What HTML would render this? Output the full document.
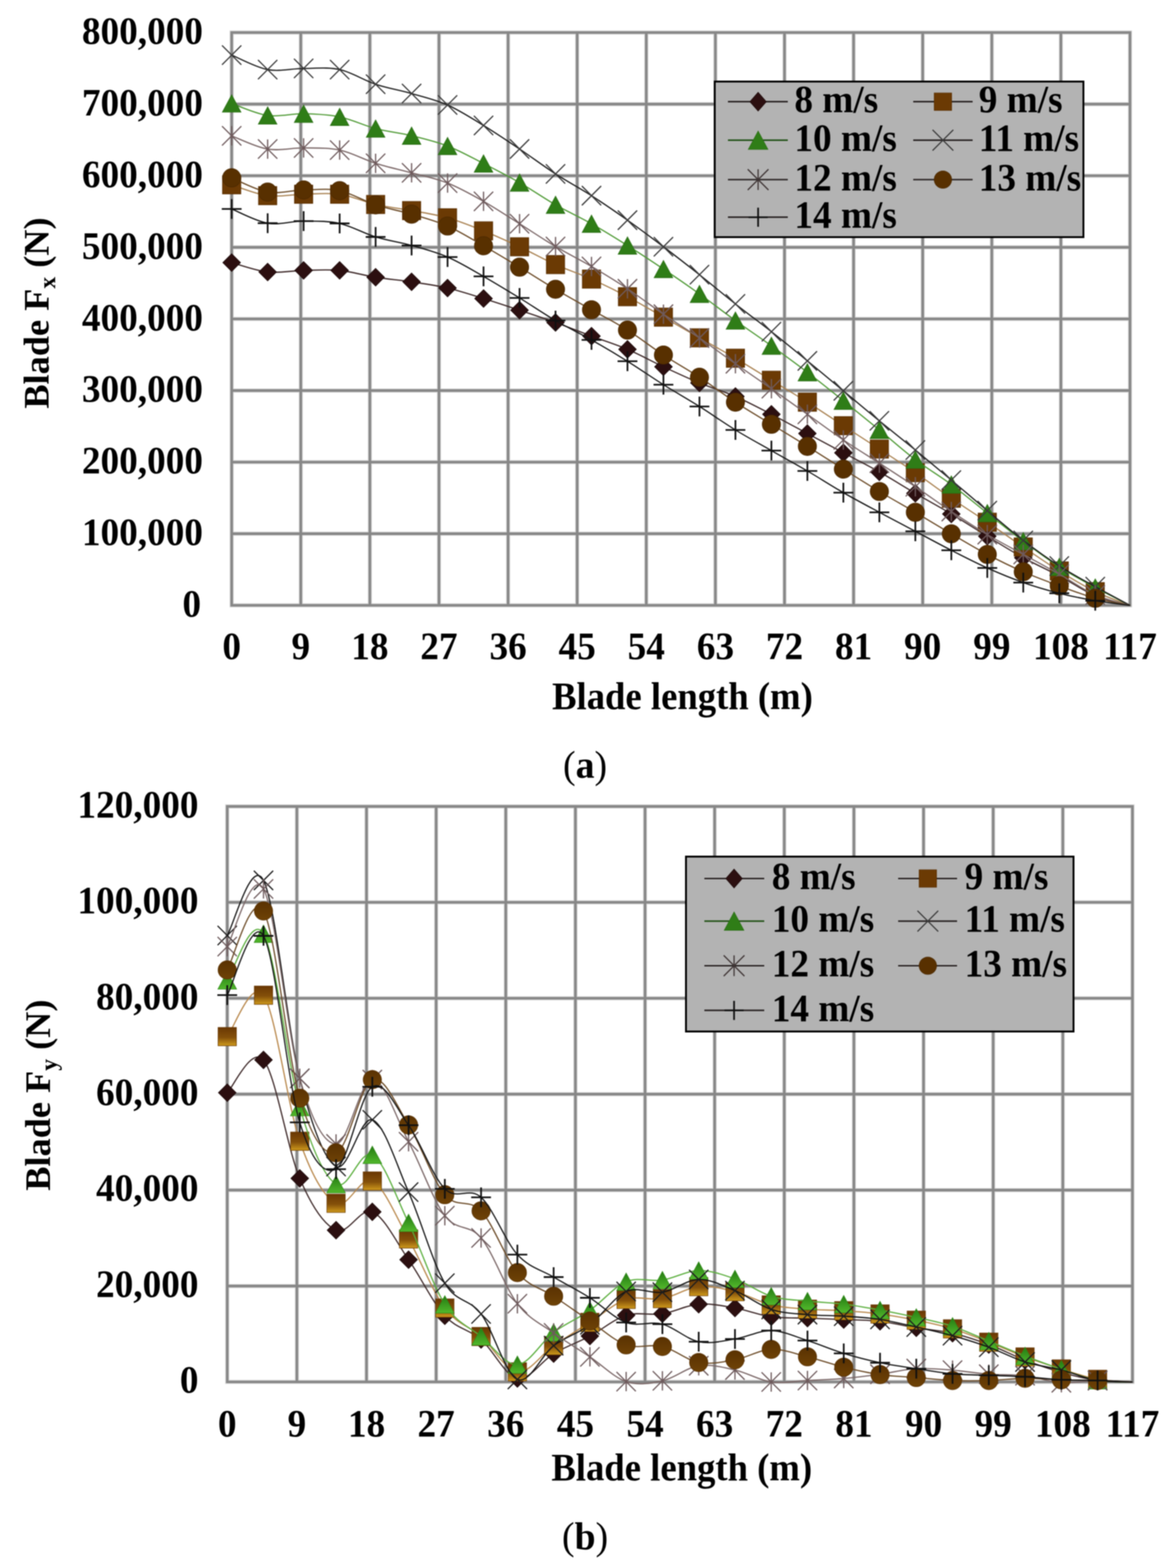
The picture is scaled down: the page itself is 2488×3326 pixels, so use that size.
<!DOCTYPE html>
<html><head><meta charset="utf-8"><title>Blade forces</title>
<style>html,body{margin:0;padding:0;background:#fff;}svg{display:block;filter:blur(1px);}</style></head><body>
<svg width="2488" height="3326" viewBox="0 0 2488 3326">
<defs>
<linearGradient id="gTri" x1="0" y1="0" x2="0" y2="1"><stop offset="0" stop-color="#237a12"/><stop offset="1" stop-color="#52b82c"/></linearGradient>
<linearGradient id="gSq" x1="0" y1="0" x2="0" y2="1"><stop offset="0" stop-color="#6a3804"/><stop offset="0.55" stop-color="#84500a"/><stop offset="1" stop-color="#cf9a1c"/></linearGradient>
<linearGradient id="gCi" x1="0" y1="0" x2="0" y2="1"><stop offset="0" stop-color="#5a3202"/><stop offset="1" stop-color="#6e4206"/></linearGradient>
</defs>
<rect width="2488" height="3326" fill="#fff"/>
<g style="font-family:'Liberation Serif','Times New Roman',serif;font-weight:bold;font-size:77px" fill="#000">
<path d="M491.4,69V1284M638,69V1284M784.5,69V1284M931.1,69V1284M1077.7,69V1284M1224.2,69V1284M1370.8,69V1284M1517.4,69V1284M1664,69V1284M1810.5,69V1284M1957.1,69V1284M2103.7,69V1284M2250.2,69V1284M2396.8,69V1284M491.4,69H2396.8M491.4,220.9H2396.8M491.4,372.8H2396.8M491.4,524.6H2396.8M491.4,676.5H2396.8M491.4,828.4H2396.8M491.4,980.2H2396.8M491.4,1132.1H2396.8M491.4,1284H2396.8" stroke="#dcdcdc" stroke-width="9" fill="none" stroke-linecap="square"/>
<path d="M491.4,69V1284M638,69V1284M784.5,69V1284M931.1,69V1284M1077.7,69V1284M1224.2,69V1284M1370.8,69V1284M1517.4,69V1284M1664,69V1284M1810.5,69V1284M1957.1,69V1284M2103.7,69V1284M2250.2,69V1284M2396.8,69V1284M491.4,69H2396.8M491.4,220.9H2396.8M491.4,372.8H2396.8M491.4,524.6H2396.8M491.4,676.5H2396.8M491.4,828.4H2396.8M491.4,980.2H2396.8M491.4,1132.1H2396.8M491.4,1284H2396.8" stroke="#878787" stroke-width="5.6" fill="none" stroke-linecap="square"/>
<text transform="translate(430.5,93) scale(1,1.045)" font-size="79" text-anchor="end">800,000</text>
<text transform="translate(430.5,244.9) scale(1,1.045)" font-size="79" text-anchor="end">700,000</text>
<text transform="translate(430.5,396.8) scale(1,1.045)" font-size="79" text-anchor="end">600,000</text>
<text transform="translate(430.5,548.6) scale(1,1.045)" font-size="79" text-anchor="end">500,000</text>
<text transform="translate(430.5,700.5) scale(1,1.045)" font-size="79" text-anchor="end">400,000</text>
<text transform="translate(430.5,852.4) scale(1,1.045)" font-size="79" text-anchor="end">300,000</text>
<text transform="translate(430.5,1004.2) scale(1,1.045)" font-size="79" text-anchor="end">200,000</text>
<text transform="translate(430.5,1156.1) scale(1,1.045)" font-size="79" text-anchor="end">100,000</text>
<text transform="translate(426.5,1308) scale(1,1.045)" font-size="79" text-anchor="end">0</text>
<text transform="translate(491.4,1398) scale(1,1.045)" font-size="79" text-anchor="middle">0</text>
<text transform="translate(638,1398) scale(1,1.045)" font-size="79" text-anchor="middle">9</text>
<text transform="translate(784.5,1398) scale(1,1.045)" font-size="79" text-anchor="middle">18</text>
<text transform="translate(931.1,1398) scale(1,1.045)" font-size="79" text-anchor="middle">27</text>
<text transform="translate(1077.7,1398) scale(1,1.045)" font-size="79" text-anchor="middle">36</text>
<text transform="translate(1224.2,1398) scale(1,1.045)" font-size="79" text-anchor="middle">45</text>
<text transform="translate(1370.8,1398) scale(1,1.045)" font-size="79" text-anchor="middle">54</text>
<text transform="translate(1517.4,1398) scale(1,1.045)" font-size="79" text-anchor="middle">63</text>
<text transform="translate(1664,1398) scale(1,1.045)" font-size="79" text-anchor="middle">72</text>
<text transform="translate(1810.5,1398) scale(1,1.045)" font-size="79" text-anchor="middle">81</text>
<text transform="translate(1957.1,1398) scale(1,1.045)" font-size="79" text-anchor="middle">90</text>
<text transform="translate(2103.7,1398) scale(1,1.045)" font-size="79" text-anchor="middle">99</text>
<text transform="translate(2250.2,1398) scale(1,1.045)" font-size="79" text-anchor="middle">108</text>
<text transform="translate(2396.8,1398) scale(1,1.045)" font-size="79" text-anchor="middle">117</text>
<text transform="translate(1447.5,1504.3) scale(1,1.05)" font-size="77.8" text-anchor="middle">Blade length (m)</text>
<text transform="translate(103,664) rotate(-90)" text-anchor="middle">Blade F<tspan font-size="50" dy="14">x</tspan><tspan dy="-14"> (N)</tspan></text>
<text transform="translate(1241,1649.5) scale(1,1.02)" font-size="80" text-anchor="middle"><tspan font-weight="normal">(</tspan>a<tspan font-weight="normal">)</tspan></text>
<path d="M491.4,557 C504.1,560.3 542.3,574.2 567.7,577 C593.2,579.8 618.6,574.2 644,573.6 C669.5,573 694.9,571.2 720.4,573.6 C745.8,576 771.2,584.1 796.7,588.1 C822.1,592.1 847.6,594 873,597.8 C898.4,601.6 923.9,605.1 949.3,611 C974.8,616.9 1000.2,625.4 1025.6,633.2 C1051.1,641 1076.5,649.5 1102,658 C1127.4,666.5 1152.8,674.8 1178.3,684 C1203.7,693.2 1229.2,703.5 1254.6,713 C1280,722.5 1305.5,730.2 1330.9,741 C1356.4,751.8 1381.8,766.1 1407.2,778 C1432.7,789.9 1458.1,801.8 1483.6,812.3 C1509,822.8 1534.4,829.9 1559.9,841 C1585.3,852.1 1610.8,865.7 1636.2,878.8 C1661.6,891.9 1687.1,906 1712.5,919.6 C1738,933.2 1763.4,946.8 1788.8,960.4 C1814.3,974 1839.7,986.7 1865.2,1001 C1890.6,1015.3 1916,1031.5 1941.5,1046.4 C1966.9,1061.3 1992.4,1075 2017.8,1090.2 C2043.2,1105.4 2068.7,1122 2094.1,1137.5 C2119.6,1153 2145,1169 2170.4,1183 C2195.9,1197 2221.3,1208.1 2246.8,1221.6 C2272.2,1235 2298.1,1253.3 2323.1,1263.7 C2348.1,1274.1 2384.5,1280.6 2396.8,1284" stroke="#3b2626" stroke-width="2.6" fill="none" stroke-linejoin="round"/>
<path d="M491.4,538.1 L510.3,557 L491.4,575.9 L472.5,557 Z" fill="#2c0f10" stroke="#1a0808" stroke-width="1.2"/>
<path d="M567.7,558.1 L586.6,577 L567.7,595.9 L548.8,577 Z" fill="#2c0f10" stroke="#1a0808" stroke-width="1.2"/>
<path d="M644,554.7 L663,573.6 L644,592.5 L625.1,573.6 Z" fill="#2c0f10" stroke="#1a0808" stroke-width="1.2"/>
<path d="M720.4,554.7 L739.3,573.6 L720.4,592.5 L701.4,573.6 Z" fill="#2c0f10" stroke="#1a0808" stroke-width="1.2"/>
<path d="M796.7,569.2 L815.6,588.1 L796.7,607 L777.8,588.1 Z" fill="#2c0f10" stroke="#1a0808" stroke-width="1.2"/>
<path d="M873,578.9 L891.9,597.8 L873,616.7 L854.1,597.8 Z" fill="#2c0f10" stroke="#1a0808" stroke-width="1.2"/>
<path d="M949.3,592.1 L968.2,611 L949.3,629.9 L930.4,611 Z" fill="#2c0f10" stroke="#1a0808" stroke-width="1.2"/>
<path d="M1025.6,614.3 L1044.6,633.2 L1025.6,652.1 L1006.7,633.2 Z" fill="#2c0f10" stroke="#1a0808" stroke-width="1.2"/>
<path d="M1102,639.1 L1120.9,658 L1102,676.9 L1083,658 Z" fill="#2c0f10" stroke="#1a0808" stroke-width="1.2"/>
<path d="M1178.3,665.1 L1197.2,684 L1178.3,702.9 L1159.4,684 Z" fill="#2c0f10" stroke="#1a0808" stroke-width="1.2"/>
<path d="M1254.6,694.1 L1273.5,713 L1254.6,731.9 L1235.7,713 Z" fill="#2c0f10" stroke="#1a0808" stroke-width="1.2"/>
<path d="M1330.9,722.1 L1349.8,741 L1330.9,759.9 L1312,741 Z" fill="#2c0f10" stroke="#1a0808" stroke-width="1.2"/>
<path d="M1407.2,759.1 L1426.2,778 L1407.2,796.9 L1388.3,778 Z" fill="#2c0f10" stroke="#1a0808" stroke-width="1.2"/>
<path d="M1483.6,793.4 L1502.5,812.3 L1483.6,831.2 L1464.6,812.3 Z" fill="#2c0f10" stroke="#1a0808" stroke-width="1.2"/>
<path d="M1559.9,822.1 L1578.8,841 L1559.9,859.9 L1541,841 Z" fill="#2c0f10" stroke="#1a0808" stroke-width="1.2"/>
<path d="M1636.2,859.9 L1655.1,878.8 L1636.2,897.7 L1617.3,878.8 Z" fill="#2c0f10" stroke="#1a0808" stroke-width="1.2"/>
<path d="M1712.5,900.7 L1731.4,919.6 L1712.5,938.5 L1693.6,919.6 Z" fill="#2c0f10" stroke="#1a0808" stroke-width="1.2"/>
<path d="M1788.8,941.5 L1807.8,960.4 L1788.8,979.3 L1769.9,960.4 Z" fill="#2c0f10" stroke="#1a0808" stroke-width="1.2"/>
<path d="M1865.2,982.1 L1884.1,1001 L1865.2,1019.9 L1846.2,1001 Z" fill="#2c0f10" stroke="#1a0808" stroke-width="1.2"/>
<path d="M1941.5,1027.5 L1960.4,1046.4 L1941.5,1065.3 L1922.6,1046.4 Z" fill="#2c0f10" stroke="#1a0808" stroke-width="1.2"/>
<path d="M2017.8,1071.3 L2036.7,1090.2 L2017.8,1109.1 L1998.9,1090.2 Z" fill="#2c0f10" stroke="#1a0808" stroke-width="1.2"/>
<path d="M2094.1,1118.6 L2113,1137.5 L2094.1,1156.4 L2075.2,1137.5 Z" fill="#2c0f10" stroke="#1a0808" stroke-width="1.2"/>
<path d="M2170.4,1164.1 L2189.4,1183 L2170.4,1201.9 L2151.5,1183 Z" fill="#2c0f10" stroke="#1a0808" stroke-width="1.2"/>
<path d="M2246.8,1202.7 L2265.7,1221.6 L2246.8,1240.5 L2227.8,1221.6 Z" fill="#2c0f10" stroke="#1a0808" stroke-width="1.2"/>
<path d="M2323.1,1244.8 L2342,1263.7 L2323.1,1282.6 L2304.2,1263.7 Z" fill="#2c0f10" stroke="#1a0808" stroke-width="1.2"/>
<path d="M491.4,392 C504.1,395.8 542.3,411.7 567.7,415 C593.2,418.3 618.6,412.5 644,412 C669.5,411.5 694.9,408.4 720.4,412 C745.8,415.6 771.2,427.9 796.7,433.7 C822.1,439.5 847.6,442 873,446.7 C898.4,451.4 923.9,454.8 949.3,462 C974.8,469.2 1000.2,479.4 1025.6,489.7 C1051.1,499.9 1076.5,511.6 1102,523.5 C1127.4,535.4 1152.8,549.9 1178.3,561.3 C1203.7,572.7 1229.2,580.6 1254.6,592 C1280,603.4 1305.5,615.9 1330.9,629.4 C1356.4,642.9 1381.8,658.2 1407.2,672.7 C1432.7,687.2 1458.1,702.1 1483.6,716.6 C1509,731.1 1534.4,744.8 1559.9,759.8 C1585.3,774.8 1610.8,791 1636.2,806.6 C1661.6,822.2 1687.1,837 1712.5,853.1 C1738,869.2 1763.4,886.4 1788.8,903 C1814.3,919.6 1839.7,935.9 1865.2,952.5 C1890.6,969.1 1916,985.2 1941.5,1002.6 C1966.9,1020 1992.4,1039.4 2017.8,1056.9 C2043.2,1074.4 2068.7,1090.5 2094.1,1107.7 C2119.6,1124.9 2145,1143.1 2170.4,1160.3 C2195.9,1177.5 2221.3,1195.3 2246.8,1211.1 C2272.2,1226.9 2298.1,1242.8 2323.1,1255 C2348.1,1267.2 2384.5,1279.2 2396.8,1284" stroke="#a8804f" stroke-width="2.6" fill="none" stroke-linejoin="round"/>
<rect x="471.9" y="372.5" width="39" height="39" fill="#6b3a04" stroke="#5a3004" stroke-width="1.2"/>
<rect x="548.2" y="395.5" width="39" height="39" fill="#6b3a04" stroke="#5a3004" stroke-width="1.2"/>
<rect x="624.5" y="392.5" width="39" height="39" fill="#6b3a04" stroke="#5a3004" stroke-width="1.2"/>
<rect x="700.9" y="392.5" width="39" height="39" fill="#6b3a04" stroke="#5a3004" stroke-width="1.2"/>
<rect x="777.2" y="414.2" width="39" height="39" fill="#6b3a04" stroke="#5a3004" stroke-width="1.2"/>
<rect x="853.5" y="427.2" width="39" height="39" fill="#6b3a04" stroke="#5a3004" stroke-width="1.2"/>
<rect x="929.8" y="442.5" width="39" height="39" fill="#6b3a04" stroke="#5a3004" stroke-width="1.2"/>
<rect x="1006.1" y="470.2" width="39" height="39" fill="#6b3a04" stroke="#5a3004" stroke-width="1.2"/>
<rect x="1082.5" y="504" width="39" height="39" fill="#6b3a04" stroke="#5a3004" stroke-width="1.2"/>
<rect x="1158.8" y="541.8" width="39" height="39" fill="#6b3a04" stroke="#5a3004" stroke-width="1.2"/>
<rect x="1235.1" y="572.5" width="39" height="39" fill="#6b3a04" stroke="#5a3004" stroke-width="1.2"/>
<rect x="1311.4" y="609.9" width="39" height="39" fill="#6b3a04" stroke="#5a3004" stroke-width="1.2"/>
<rect x="1387.7" y="653.2" width="39" height="39" fill="#6b3a04" stroke="#5a3004" stroke-width="1.2"/>
<rect x="1464.1" y="697.1" width="39" height="39" fill="#6b3a04" stroke="#5a3004" stroke-width="1.2"/>
<rect x="1540.4" y="740.3" width="39" height="39" fill="#6b3a04" stroke="#5a3004" stroke-width="1.2"/>
<rect x="1616.7" y="787.1" width="39" height="39" fill="#6b3a04" stroke="#5a3004" stroke-width="1.2"/>
<rect x="1693" y="833.6" width="39" height="39" fill="#6b3a04" stroke="#5a3004" stroke-width="1.2"/>
<rect x="1769.3" y="883.5" width="39" height="39" fill="#6b3a04" stroke="#5a3004" stroke-width="1.2"/>
<rect x="1845.7" y="933" width="39" height="39" fill="#6b3a04" stroke="#5a3004" stroke-width="1.2"/>
<rect x="1922" y="983.1" width="39" height="39" fill="#6b3a04" stroke="#5a3004" stroke-width="1.2"/>
<rect x="1998.3" y="1037.4" width="39" height="39" fill="#6b3a04" stroke="#5a3004" stroke-width="1.2"/>
<rect x="2074.6" y="1088.2" width="39" height="39" fill="#6b3a04" stroke="#5a3004" stroke-width="1.2"/>
<rect x="2150.9" y="1140.8" width="39" height="39" fill="#6b3a04" stroke="#5a3004" stroke-width="1.2"/>
<rect x="2227.3" y="1191.6" width="39" height="39" fill="#6b3a04" stroke="#5a3004" stroke-width="1.2"/>
<rect x="2303.6" y="1235.5" width="39" height="39" fill="#6b3a04" stroke="#5a3004" stroke-width="1.2"/>
<path d="M491.4,219.5 C504.1,223.7 542.3,241.3 567.7,244.9 C593.2,248.5 618.6,240.8 644,241.3 C669.5,241.8 694.9,242.7 720.4,247.9 C745.8,253.1 771.2,266.1 796.7,272.7 C822.1,279.3 847.6,281.6 873,287.8 C898.4,294 923.9,299.9 949.3,309.7 C974.8,319.5 1000.2,333.9 1025.6,346.8 C1051.1,359.7 1076.5,372.7 1102,387.3 C1127.4,401.9 1152.8,419.8 1178.3,434.4 C1203.7,448.9 1229.2,460.2 1254.6,474.6 C1280,489 1305.5,504.8 1330.9,520.8 C1356.4,536.8 1381.8,553.6 1407.2,570.7 C1432.7,587.8 1458.1,605.3 1483.6,623.5 C1509,641.7 1534.4,661.7 1559.9,680 C1585.3,698.3 1610.8,715.2 1636.2,733.5 C1661.6,751.8 1687.1,770.3 1712.5,789.7 C1738,809.1 1763.4,829.7 1788.8,850.1 C1814.3,870.5 1839.7,891.2 1865.2,912 C1890.6,932.8 1916,955.7 1941.5,975 C1966.9,994.3 1992.4,1008.9 2017.8,1027.8 C2043.2,1046.7 2068.7,1068.4 2094.1,1088.4 C2119.6,1108.4 2145,1129 2170.4,1148 C2195.9,1167 2221.3,1186 2246.8,1202.4 C2272.2,1218.8 2298.1,1232.6 2323.1,1246.2 C2348.1,1259.8 2384.5,1277.7 2396.8,1284" stroke="#4f9a35" stroke-width="2.6" fill="none" stroke-linejoin="round"/>
<path d="M491.4,201 L511.3,238 L471.5,238 Z" fill="#2f7d17" stroke="#2a6e14" stroke-width="1.2"/>
<path d="M567.7,226.4 L587.6,263.4 L547.8,263.4 Z" fill="#2f7d17" stroke="#2a6e14" stroke-width="1.2"/>
<path d="M644,222.8 L663.9,259.8 L624.1,259.8 Z" fill="#2f7d17" stroke="#2a6e14" stroke-width="1.2"/>
<path d="M720.4,229.4 L740.2,266.4 L700.5,266.4 Z" fill="#2f7d17" stroke="#2a6e14" stroke-width="1.2"/>
<path d="M796.7,254.2 L816.6,291.2 L776.8,291.2 Z" fill="#2f7d17" stroke="#2a6e14" stroke-width="1.2"/>
<path d="M873,269.3 L892.9,306.3 L853.1,306.3 Z" fill="#2f7d17" stroke="#2a6e14" stroke-width="1.2"/>
<path d="M949.3,291.2 L969.2,328.2 L929.4,328.2 Z" fill="#2f7d17" stroke="#2a6e14" stroke-width="1.2"/>
<path d="M1025.6,328.3 L1045.5,365.3 L1005.7,365.3 Z" fill="#2f7d17" stroke="#2a6e14" stroke-width="1.2"/>
<path d="M1102,368.8 L1121.9,405.8 L1082.1,405.8 Z" fill="#2f7d17" stroke="#2a6e14" stroke-width="1.2"/>
<path d="M1178.3,415.9 L1198.2,452.9 L1158.4,452.9 Z" fill="#2f7d17" stroke="#2a6e14" stroke-width="1.2"/>
<path d="M1254.6,456.1 L1274.5,493.1 L1234.7,493.1 Z" fill="#2f7d17" stroke="#2a6e14" stroke-width="1.2"/>
<path d="M1330.9,502.3 L1350.8,539.3 L1311,539.3 Z" fill="#2f7d17" stroke="#2a6e14" stroke-width="1.2"/>
<path d="M1407.2,552.2 L1427.1,589.2 L1387.3,589.2 Z" fill="#2f7d17" stroke="#2a6e14" stroke-width="1.2"/>
<path d="M1483.6,605 L1503.5,642 L1463.7,642 Z" fill="#2f7d17" stroke="#2a6e14" stroke-width="1.2"/>
<path d="M1559.9,661.5 L1579.8,698.5 L1540,698.5 Z" fill="#2f7d17" stroke="#2a6e14" stroke-width="1.2"/>
<path d="M1636.2,715 L1656.1,752 L1616.3,752 Z" fill="#2f7d17" stroke="#2a6e14" stroke-width="1.2"/>
<path d="M1712.5,771.2 L1732.4,808.2 L1692.6,808.2 Z" fill="#2f7d17" stroke="#2a6e14" stroke-width="1.2"/>
<path d="M1788.8,831.6 L1808.7,868.6 L1768.9,868.6 Z" fill="#2f7d17" stroke="#2a6e14" stroke-width="1.2"/>
<path d="M1865.2,893.5 L1885,930.5 L1845.3,930.5 Z" fill="#2f7d17" stroke="#2a6e14" stroke-width="1.2"/>
<path d="M1941.5,956.5 L1961.4,993.5 L1921.6,993.5 Z" fill="#2f7d17" stroke="#2a6e14" stroke-width="1.2"/>
<path d="M2017.8,1009.3 L2037.7,1046.3 L1997.9,1046.3 Z" fill="#2f7d17" stroke="#2a6e14" stroke-width="1.2"/>
<path d="M2094.1,1069.9 L2114,1106.9 L2074.2,1106.9 Z" fill="#2f7d17" stroke="#2a6e14" stroke-width="1.2"/>
<path d="M2170.4,1129.5 L2190.3,1166.5 L2150.6,1166.5 Z" fill="#2f7d17" stroke="#2a6e14" stroke-width="1.2"/>
<path d="M2246.8,1183.9 L2266.6,1220.9 L2226.9,1220.9 Z" fill="#2f7d17" stroke="#2a6e14" stroke-width="1.2"/>
<path d="M2323.1,1227.7 L2343,1264.7 L2303.2,1264.7 Z" fill="#2f7d17" stroke="#2a6e14" stroke-width="1.2"/>
<path d="M491.4,116.8 C504.1,121.9 542.3,142.9 567.7,147.6 C593.2,152.3 618.6,145.2 644,145.2 C669.5,145.2 694.9,142 720.4,147.6 C745.8,153.2 771.2,170.2 796.7,178.7 C822.1,187.2 847.6,191.1 873,198.4 C898.4,205.7 923.9,211.4 949.3,222.7 C974.8,234 1000.2,250.6 1025.6,266.1 C1051.1,281.7 1076.5,298.9 1102,316 C1127.4,333.1 1152.8,352.3 1178.3,368.8 C1203.7,385.3 1229.2,398.6 1254.6,415 C1280,431.4 1305.5,448.9 1330.9,467 C1356.4,485.1 1381.8,504.1 1407.2,523.4 C1432.7,542.7 1458.1,562.5 1483.6,582.7 C1509,602.9 1534.4,624.6 1559.9,644.7 C1585.3,664.9 1610.8,683.5 1636.2,703.6 C1661.6,723.7 1687.1,744.6 1712.5,765.5 C1738,786.4 1763.4,807.8 1788.8,829 C1814.3,850.2 1839.7,871.8 1865.2,892.7 C1890.6,913.6 1916,933.7 1941.5,954.6 C1966.9,975.5 1992.4,996.9 2017.8,1018.3 C2043.2,1039.7 2068.7,1061.9 2094.1,1083.2 C2119.6,1104.5 2145,1126.7 2170.4,1146.3 C2195.9,1165.9 2221.3,1184.2 2246.8,1200.6 C2272.2,1216.9 2298.1,1230.5 2323.1,1244.4 C2348.1,1258.3 2384.5,1277.4 2396.8,1284" stroke="#1c1c1c" stroke-width="2.6" fill="none" stroke-linejoin="round"/>
<path d="M470.9,96.3 L511.9,137.3 M470.9,137.3 L511.9,96.3" stroke="#3a3a3a" stroke-width="2.6" fill="none"/>
<path d="M547.2,127.1 L588.2,168.1 M547.2,168.1 L588.2,127.1" stroke="#3a3a3a" stroke-width="2.6" fill="none"/>
<path d="M623.5,124.7 L664.5,165.7 M623.5,165.7 L664.5,124.7" stroke="#3a3a3a" stroke-width="2.6" fill="none"/>
<path d="M699.9,127.1 L740.9,168.1 M699.9,168.1 L740.9,127.1" stroke="#3a3a3a" stroke-width="2.6" fill="none"/>
<path d="M776.2,158.2 L817.2,199.2 M776.2,199.2 L817.2,158.2" stroke="#3a3a3a" stroke-width="2.6" fill="none"/>
<path d="M852.5,177.9 L893.5,218.9 M852.5,218.9 L893.5,177.9" stroke="#3a3a3a" stroke-width="2.6" fill="none"/>
<path d="M928.8,202.2 L969.8,243.2 M928.8,243.2 L969.8,202.2" stroke="#3a3a3a" stroke-width="2.6" fill="none"/>
<path d="M1005.1,245.6 L1046.1,286.6 M1005.1,286.6 L1046.1,245.6" stroke="#3a3a3a" stroke-width="2.6" fill="none"/>
<path d="M1081.5,295.5 L1122.5,336.5 M1081.5,336.5 L1122.5,295.5" stroke="#3a3a3a" stroke-width="2.6" fill="none"/>
<path d="M1157.8,348.3 L1198.8,389.3 M1157.8,389.3 L1198.8,348.3" stroke="#3a3a3a" stroke-width="2.6" fill="none"/>
<path d="M1234.1,394.5 L1275.1,435.5 M1234.1,435.5 L1275.1,394.5" stroke="#3a3a3a" stroke-width="2.6" fill="none"/>
<path d="M1310.4,446.5 L1351.4,487.5 M1310.4,487.5 L1351.4,446.5" stroke="#3a3a3a" stroke-width="2.6" fill="none"/>
<path d="M1386.7,502.9 L1427.7,543.9 M1386.7,543.9 L1427.7,502.9" stroke="#3a3a3a" stroke-width="2.6" fill="none"/>
<path d="M1463.1,562.2 L1504.1,603.2 M1463.1,603.2 L1504.1,562.2" stroke="#3a3a3a" stroke-width="2.6" fill="none"/>
<path d="M1539.4,624.2 L1580.4,665.2 M1539.4,665.2 L1580.4,624.2" stroke="#3a3a3a" stroke-width="2.6" fill="none"/>
<path d="M1615.7,683.1 L1656.7,724.1 M1615.7,724.1 L1656.7,683.1" stroke="#3a3a3a" stroke-width="2.6" fill="none"/>
<path d="M1692,745 L1733,786 M1692,786 L1733,745" stroke="#3a3a3a" stroke-width="2.6" fill="none"/>
<path d="M1768.3,808.5 L1809.3,849.5 M1768.3,849.5 L1809.3,808.5" stroke="#3a3a3a" stroke-width="2.6" fill="none"/>
<path d="M1844.7,872.2 L1885.7,913.2 M1844.7,913.2 L1885.7,872.2" stroke="#3a3a3a" stroke-width="2.6" fill="none"/>
<path d="M1921,934.1 L1962,975.1 M1921,975.1 L1962,934.1" stroke="#3a3a3a" stroke-width="2.6" fill="none"/>
<path d="M1997.3,997.8 L2038.3,1038.8 M1997.3,1038.8 L2038.3,997.8" stroke="#3a3a3a" stroke-width="2.6" fill="none"/>
<path d="M2073.6,1062.7 L2114.6,1103.7 M2073.6,1103.7 L2114.6,1062.7" stroke="#3a3a3a" stroke-width="2.6" fill="none"/>
<path d="M2149.9,1125.8 L2190.9,1166.8 M2149.9,1166.8 L2190.9,1125.8" stroke="#3a3a3a" stroke-width="2.6" fill="none"/>
<path d="M2226.3,1180.1 L2267.3,1221.1 M2226.3,1221.1 L2267.3,1180.1" stroke="#3a3a3a" stroke-width="2.6" fill="none"/>
<path d="M2302.6,1223.9 L2343.6,1264.9 M2302.6,1264.9 L2343.6,1223.9" stroke="#3a3a3a" stroke-width="2.6" fill="none"/>
<path d="M491.4,288.1 C504.1,292.8 542.3,311.9 567.7,316.2 C593.2,320.5 618.6,313.4 644,313.8 C669.5,314.2 694.9,312.9 720.4,318.3 C745.8,323.7 771.2,338.3 796.7,346.4 C822.1,354.4 847.6,359.6 873,366.6 C898.4,373.6 923.9,378.2 949.3,388.3 C974.8,398.4 1000.2,412.7 1025.6,427.1 C1051.1,441.5 1076.5,458.6 1102,474.6 C1127.4,490.6 1152.8,507.8 1178.3,522.9 C1203.7,538 1229.2,550.3 1254.6,565.2 C1280,580.1 1305.5,595.6 1330.9,612.5 C1356.4,629.4 1381.8,649.1 1407.2,666.5 C1432.7,683.9 1458.1,699.5 1483.6,717 C1509,734.5 1534.4,753.6 1559.9,771.5 C1585.3,789.4 1610.8,806.5 1636.2,824.4 C1661.6,842.3 1687.1,860.7 1712.5,878.8 C1738,896.9 1763.4,915.9 1788.8,933.2 C1814.3,950.5 1839.7,965.9 1865.2,982.4 C1890.6,998.9 1916,1015.3 1941.5,1032.4 C1966.9,1049.5 1992.4,1068.1 2017.8,1085 C2043.2,1101.9 2068.7,1118.8 2094.1,1134 C2119.6,1149.2 2145,1162 2170.4,1176 C2195.9,1190 2221.3,1203.7 2246.8,1218 C2272.2,1232.3 2298.1,1251 2323.1,1262 C2348.1,1273 2384.5,1280.3 2396.8,1284" stroke="#7a6666" stroke-width="2.6" fill="none" stroke-linejoin="round"/>
<path d="M470.9,267.6 L511.9,308.6 M470.9,308.6 L511.9,267.6 M491.4,267.6 L491.4,308.6" stroke="#6e5a5c" stroke-width="2.6" fill="none"/>
<path d="M547.2,295.7 L588.2,336.7 M547.2,336.7 L588.2,295.7 M567.7,295.7 L567.7,336.7" stroke="#6e5a5c" stroke-width="2.6" fill="none"/>
<path d="M623.5,293.3 L664.5,334.3 M623.5,334.3 L664.5,293.3 M644,293.3 L644,334.3" stroke="#6e5a5c" stroke-width="2.6" fill="none"/>
<path d="M699.9,297.8 L740.9,338.8 M699.9,338.8 L740.9,297.8 M720.4,297.8 L720.4,338.8" stroke="#6e5a5c" stroke-width="2.6" fill="none"/>
<path d="M776.2,325.9 L817.2,366.9 M776.2,366.9 L817.2,325.9 M796.7,325.9 L796.7,366.9" stroke="#6e5a5c" stroke-width="2.6" fill="none"/>
<path d="M852.5,346.1 L893.5,387.1 M852.5,387.1 L893.5,346.1 M873,346.1 L873,387.1" stroke="#6e5a5c" stroke-width="2.6" fill="none"/>
<path d="M928.8,367.8 L969.8,408.8 M928.8,408.8 L969.8,367.8 M949.3,367.8 L949.3,408.8" stroke="#6e5a5c" stroke-width="2.6" fill="none"/>
<path d="M1005.1,406.6 L1046.1,447.6 M1005.1,447.6 L1046.1,406.6 M1025.6,406.6 L1025.6,447.6" stroke="#6e5a5c" stroke-width="2.6" fill="none"/>
<path d="M1081.5,454.1 L1122.5,495.1 M1081.5,495.1 L1122.5,454.1 M1102,454.1 L1102,495.1" stroke="#6e5a5c" stroke-width="2.6" fill="none"/>
<path d="M1157.8,502.4 L1198.8,543.4 M1157.8,543.4 L1198.8,502.4 M1178.3,502.4 L1178.3,543.4" stroke="#6e5a5c" stroke-width="2.6" fill="none"/>
<path d="M1234.1,544.7 L1275.1,585.7 M1234.1,585.7 L1275.1,544.7 M1254.6,544.7 L1254.6,585.7" stroke="#6e5a5c" stroke-width="2.6" fill="none"/>
<path d="M1310.4,592 L1351.4,633 M1310.4,633 L1351.4,592 M1330.9,592 L1330.9,633" stroke="#6e5a5c" stroke-width="2.6" fill="none"/>
<path d="M1386.7,646 L1427.7,687 M1386.7,687 L1427.7,646 M1407.2,646 L1407.2,687" stroke="#6e5a5c" stroke-width="2.6" fill="none"/>
<path d="M1463.1,696.5 L1504.1,737.5 M1463.1,737.5 L1504.1,696.5 M1483.6,696.5 L1483.6,737.5" stroke="#6e5a5c" stroke-width="2.6" fill="none"/>
<path d="M1539.4,751 L1580.4,792 M1539.4,792 L1580.4,751 M1559.9,751 L1559.9,792" stroke="#6e5a5c" stroke-width="2.6" fill="none"/>
<path d="M1615.7,803.9 L1656.7,844.9 M1615.7,844.9 L1656.7,803.9 M1636.2,803.9 L1636.2,844.9" stroke="#6e5a5c" stroke-width="2.6" fill="none"/>
<path d="M1692,858.3 L1733,899.3 M1692,899.3 L1733,858.3 M1712.5,858.3 L1712.5,899.3" stroke="#6e5a5c" stroke-width="2.6" fill="none"/>
<path d="M1768.3,912.7 L1809.3,953.7 M1768.3,953.7 L1809.3,912.7 M1788.8,912.7 L1788.8,953.7" stroke="#6e5a5c" stroke-width="2.6" fill="none"/>
<path d="M1844.7,961.9 L1885.7,1002.9 M1844.7,1002.9 L1885.7,961.9 M1865.2,961.9 L1865.2,1002.9" stroke="#6e5a5c" stroke-width="2.6" fill="none"/>
<path d="M1921,1011.9 L1962,1052.9 M1921,1052.9 L1962,1011.9 M1941.5,1011.9 L1941.5,1052.9" stroke="#6e5a5c" stroke-width="2.6" fill="none"/>
<path d="M1997.3,1064.5 L2038.3,1105.5 M1997.3,1105.5 L2038.3,1064.5 M2017.8,1064.5 L2017.8,1105.5" stroke="#6e5a5c" stroke-width="2.6" fill="none"/>
<path d="M2073.6,1113.5 L2114.6,1154.5 M2073.6,1154.5 L2114.6,1113.5 M2094.1,1113.5 L2094.1,1154.5" stroke="#6e5a5c" stroke-width="2.6" fill="none"/>
<path d="M2149.9,1155.5 L2190.9,1196.5 M2149.9,1196.5 L2190.9,1155.5 M2170.4,1155.5 L2170.4,1196.5" stroke="#6e5a5c" stroke-width="2.6" fill="none"/>
<path d="M2226.3,1197.5 L2267.3,1238.5 M2226.3,1238.5 L2267.3,1197.5 M2246.8,1197.5 L2246.8,1238.5" stroke="#6e5a5c" stroke-width="2.6" fill="none"/>
<path d="M2302.6,1241.5 L2343.6,1282.5 M2302.6,1282.5 L2343.6,1241.5 M2323.1,1241.5 L2323.1,1282.5" stroke="#6e5a5c" stroke-width="2.6" fill="none"/>
<path d="M491.4,377.2 C504.1,382.2 542.3,403.1 567.7,407.4 C593.2,411.7 618.6,403.4 644,402.9 C669.5,402.4 694.9,399.1 720.4,404.4 C745.8,409.7 771.2,426.3 796.7,434.6 C822.1,442.9 847.6,446.8 873,454.3 C898.4,461.8 923.9,468.3 949.3,479.5 C974.8,490.7 1000.2,506.9 1025.6,521.4 C1051.1,535.9 1076.5,551.3 1102,566.7 C1127.4,582.1 1152.8,598.6 1178.3,613.6 C1203.7,628.6 1229.2,642.6 1254.6,657 C1280,671.4 1305.5,684.2 1330.9,700.2 C1356.4,716.2 1381.8,736.3 1407.2,753 C1432.7,769.7 1458.1,783.5 1483.6,800.2 C1509,816.9 1534.4,836.5 1559.9,853.1 C1585.3,869.7 1610.8,884.4 1636.2,900 C1661.6,915.6 1687.1,930.9 1712.5,946.8 C1738,962.6 1763.4,979.1 1788.8,995.1 C1814.3,1011.1 1839.7,1027.2 1865.2,1042.5 C1890.6,1057.8 1916,1071.7 1941.5,1086.7 C1966.9,1101.7 1992.4,1117.4 2017.8,1132.3 C2043.2,1147.2 2068.7,1162.6 2094.1,1176 C2119.6,1189.4 2145,1201.8 2170.4,1212.9 C2195.9,1224 2221.3,1233.4 2246.8,1242.7 C2272.2,1252 2298.1,1262.1 2323.1,1269 C2348.1,1275.9 2384.5,1281.5 2396.8,1284" stroke="#6b4a26" stroke-width="2.6" fill="none" stroke-linejoin="round"/>
<circle cx="491.4" cy="377.2" r="19.5" fill="#583000" stroke="#4a2800" stroke-width="1.2"/>
<circle cx="567.7" cy="407.4" r="19.5" fill="#583000" stroke="#4a2800" stroke-width="1.2"/>
<circle cx="644" cy="402.9" r="19.5" fill="#583000" stroke="#4a2800" stroke-width="1.2"/>
<circle cx="720.4" cy="404.4" r="19.5" fill="#583000" stroke="#4a2800" stroke-width="1.2"/>
<circle cx="796.7" cy="434.6" r="19.5" fill="#583000" stroke="#4a2800" stroke-width="1.2"/>
<circle cx="873" cy="454.3" r="19.5" fill="#583000" stroke="#4a2800" stroke-width="1.2"/>
<circle cx="949.3" cy="479.5" r="19.5" fill="#583000" stroke="#4a2800" stroke-width="1.2"/>
<circle cx="1025.6" cy="521.4" r="19.5" fill="#583000" stroke="#4a2800" stroke-width="1.2"/>
<circle cx="1102" cy="566.7" r="19.5" fill="#583000" stroke="#4a2800" stroke-width="1.2"/>
<circle cx="1178.3" cy="613.6" r="19.5" fill="#583000" stroke="#4a2800" stroke-width="1.2"/>
<circle cx="1254.6" cy="657" r="19.5" fill="#583000" stroke="#4a2800" stroke-width="1.2"/>
<circle cx="1330.9" cy="700.2" r="19.5" fill="#583000" stroke="#4a2800" stroke-width="1.2"/>
<circle cx="1407.2" cy="753" r="19.5" fill="#583000" stroke="#4a2800" stroke-width="1.2"/>
<circle cx="1483.6" cy="800.2" r="19.5" fill="#583000" stroke="#4a2800" stroke-width="1.2"/>
<circle cx="1559.9" cy="853.1" r="19.5" fill="#583000" stroke="#4a2800" stroke-width="1.2"/>
<circle cx="1636.2" cy="900" r="19.5" fill="#583000" stroke="#4a2800" stroke-width="1.2"/>
<circle cx="1712.5" cy="946.8" r="19.5" fill="#583000" stroke="#4a2800" stroke-width="1.2"/>
<circle cx="1788.8" cy="995.1" r="19.5" fill="#583000" stroke="#4a2800" stroke-width="1.2"/>
<circle cx="1865.2" cy="1042.5" r="19.5" fill="#583000" stroke="#4a2800" stroke-width="1.2"/>
<circle cx="1941.5" cy="1086.7" r="19.5" fill="#583000" stroke="#4a2800" stroke-width="1.2"/>
<circle cx="2017.8" cy="1132.3" r="19.5" fill="#583000" stroke="#4a2800" stroke-width="1.2"/>
<circle cx="2094.1" cy="1176" r="19.5" fill="#583000" stroke="#4a2800" stroke-width="1.2"/>
<circle cx="2170.4" cy="1212.9" r="19.5" fill="#583000" stroke="#4a2800" stroke-width="1.2"/>
<circle cx="2246.8" cy="1242.7" r="19.5" fill="#583000" stroke="#4a2800" stroke-width="1.2"/>
<circle cx="2323.1" cy="1269" r="19.5" fill="#583000" stroke="#4a2800" stroke-width="1.2"/>
<path d="M491.4,443.2 C504.1,448.2 542.3,469.1 567.7,473.4 C593.2,477.7 618.6,468.9 644,469 C669.5,469.1 694.9,468.3 720.4,473.9 C745.8,479.5 771.2,494.8 796.7,502.6 C822.1,510.4 847.6,513.6 873,520.7 C898.4,527.8 923.9,534.3 949.3,545.2 C974.8,556.1 1000.2,571.8 1025.6,586.3 C1051.1,600.8 1076.5,616.4 1102,632 C1127.4,647.6 1152.8,665.2 1178.3,680 C1203.7,694.8 1229.2,706.6 1254.6,721 C1280,735.4 1305.5,750.5 1330.9,766.3 C1356.4,782.1 1381.8,800 1407.2,816 C1432.7,832 1458.1,846.2 1483.6,862.2 C1509,878.2 1534.4,896.4 1559.9,912 C1585.3,927.6 1610.8,941.3 1636.2,955.8 C1661.6,970.3 1687.1,984.1 1712.5,999 C1738,1013.9 1763.4,1030.4 1788.8,1045 C1814.3,1059.6 1839.7,1073 1865.2,1086.7 C1890.6,1100.4 1916,1113.6 1941.5,1127 C1966.9,1140.4 1992.4,1154.3 2017.8,1167.3 C2043.2,1180.3 2068.7,1193.4 2094.1,1204.8 C2119.6,1216.2 2145,1226.8 2170.4,1235.7 C2195.9,1244.6 2221.3,1252 2246.8,1258.4 C2272.2,1264.8 2298.1,1269.9 2323.1,1274.2 C2348.1,1278.5 2384.5,1282.4 2396.8,1284" stroke="#151515" stroke-width="2.6" fill="none" stroke-linejoin="round"/>
<path d="M470.4,443.2 L512.4,443.2 M491.4,422.2 L491.4,464.2" stroke="#101010" stroke-width="3.6" fill="none"/>
<path d="M546.7,473.4 L588.7,473.4 M567.7,452.4 L567.7,494.4" stroke="#101010" stroke-width="3.6" fill="none"/>
<path d="M623,469 L665,469 M644,448 L644,490" stroke="#101010" stroke-width="3.6" fill="none"/>
<path d="M699.4,473.9 L741.4,473.9 M720.4,452.9 L720.4,494.9" stroke="#101010" stroke-width="3.6" fill="none"/>
<path d="M775.7,502.6 L817.7,502.6 M796.7,481.6 L796.7,523.6" stroke="#101010" stroke-width="3.6" fill="none"/>
<path d="M852,520.7 L894,520.7 M873,499.7 L873,541.7" stroke="#101010" stroke-width="3.6" fill="none"/>
<path d="M928.3,545.2 L970.3,545.2 M949.3,524.2 L949.3,566.2" stroke="#101010" stroke-width="3.6" fill="none"/>
<path d="M1004.6,586.3 L1046.6,586.3 M1025.6,565.3 L1025.6,607.3" stroke="#101010" stroke-width="3.6" fill="none"/>
<path d="M1081,632 L1123,632 M1102,611 L1102,653" stroke="#101010" stroke-width="3.6" fill="none"/>
<path d="M1157.3,680 L1199.3,680 M1178.3,659 L1178.3,701" stroke="#101010" stroke-width="3.6" fill="none"/>
<path d="M1233.6,721 L1275.6,721 M1254.6,700 L1254.6,742" stroke="#101010" stroke-width="3.6" fill="none"/>
<path d="M1309.9,766.3 L1351.9,766.3 M1330.9,745.3 L1330.9,787.3" stroke="#101010" stroke-width="3.6" fill="none"/>
<path d="M1386.2,816 L1428.2,816 M1407.2,795 L1407.2,837" stroke="#101010" stroke-width="3.6" fill="none"/>
<path d="M1462.6,862.2 L1504.6,862.2 M1483.6,841.2 L1483.6,883.2" stroke="#101010" stroke-width="3.6" fill="none"/>
<path d="M1538.9,912 L1580.9,912 M1559.9,891 L1559.9,933" stroke="#101010" stroke-width="3.6" fill="none"/>
<path d="M1615.2,955.8 L1657.2,955.8 M1636.2,934.8 L1636.2,976.8" stroke="#101010" stroke-width="3.6" fill="none"/>
<path d="M1691.5,999 L1733.5,999 M1712.5,978 L1712.5,1020" stroke="#101010" stroke-width="3.6" fill="none"/>
<path d="M1767.8,1045 L1809.8,1045 M1788.8,1024 L1788.8,1066" stroke="#101010" stroke-width="3.6" fill="none"/>
<path d="M1844.2,1086.7 L1886.2,1086.7 M1865.2,1065.7 L1865.2,1107.7" stroke="#101010" stroke-width="3.6" fill="none"/>
<path d="M1920.5,1127 L1962.5,1127 M1941.5,1106 L1941.5,1148" stroke="#101010" stroke-width="3.6" fill="none"/>
<path d="M1996.8,1167.3 L2038.8,1167.3 M2017.8,1146.3 L2017.8,1188.3" stroke="#101010" stroke-width="3.6" fill="none"/>
<path d="M2073.1,1204.8 L2115.1,1204.8 M2094.1,1183.8 L2094.1,1225.8" stroke="#101010" stroke-width="3.6" fill="none"/>
<path d="M2149.4,1235.7 L2191.4,1235.7 M2170.4,1214.7 L2170.4,1256.7" stroke="#101010" stroke-width="3.6" fill="none"/>
<path d="M2225.8,1258.4 L2267.8,1258.4 M2246.8,1237.4 L2246.8,1279.4" stroke="#101010" stroke-width="3.6" fill="none"/>
<path d="M2302.1,1274.2 L2344.1,1274.2 M2323.1,1253.2 L2323.1,1295.2" stroke="#101010" stroke-width="3.6" fill="none"/>
<rect x="1516" y="173" width="782" height="330" fill="#b3b3b3" stroke="#000" stroke-width="4"/>
<path d="M1544,215.7H1671" stroke="#262020" stroke-width="3.2"/>
<path d="M1608,195.7 L1625.5,215.7 L1608,235.7 L1590.5,215.7 Z" fill="#2c0f10" stroke="#1a0808" stroke-width="1.2"/>
<text transform="translate(1685,238.2) scale(1,1.035)" font-size="79">8 m/s</text>
<path d="M1937,215.7H2063" stroke="#262020" stroke-width="3.2"/>
<rect x="1981.5" y="197.2" width="37" height="37" fill="#6b3a04" stroke="#5a3004" stroke-width="1.2"/>
<text transform="translate(2076,238.2) scale(1,1.035)" font-size="79">9 m/s</text>
<path d="M1544,297.4H1671" stroke="#1f5014" stroke-width="3.2"/>
<path d="M1608,277.9 L1628.9,316.9 L1587.1,316.9 Z" fill="#2f7d17" stroke="#2a6e14" stroke-width="1.2"/>
<text transform="translate(1685,319.9) scale(1,1.035)" font-size="79">10 m/s</text>
<path d="M1937,297.4H2063" stroke="#262020" stroke-width="3.2"/>
<path d="M1978,275.4 L2022,319.4 M1978,319.4 L2022,275.4" stroke="#3a3a3a" stroke-width="2.6" fill="none"/>
<text transform="translate(2076,319.9) scale(1,1.035)" font-size="79">11 m/s</text>
<path d="M1544,381H1671" stroke="#262020" stroke-width="3.2"/>
<path d="M1586,359 L1630,403 M1586,403 L1630,359 M1608,359 L1608,403" stroke="#403636" stroke-width="2.6" fill="none"/>
<text transform="translate(1685,403.5) scale(1,1.035)" font-size="79">12 m/s</text>
<path d="M1937,381H2063" stroke="#262020" stroke-width="3.2"/>
<circle cx="2000" cy="381" r="18.5" fill="#583000" stroke="#4a2800" stroke-width="1.2"/>
<text transform="translate(2076,403.5) scale(1,1.035)" font-size="79">13 m/s</text>
<path d="M1544,460.7H1671" stroke="#262020" stroke-width="3.2"/>
<path d="M1587.7,460.7 L1628.3,460.7 M1608,440.4 L1608,481" stroke="#101010" stroke-width="3.6" fill="none"/>
<text transform="translate(1685,483.2) scale(1,1.035)" font-size="79">14 m/s</text>
<path d="M482,1710.6V2931.3M629.7,1710.6V2931.3M777.4,1710.6V2931.3M925.1,1710.6V2931.3M1072.8,1710.6V2931.3M1220.5,1710.6V2931.3M1368.2,1710.6V2931.3M1515.8,1710.6V2931.3M1663.5,1710.6V2931.3M1811.2,1710.6V2931.3M1958.9,1710.6V2931.3M2106.6,1710.6V2931.3M2254.3,1710.6V2931.3M2402,1710.6V2931.3M482,1710.6H2402M482,1914H2402M482,2117.5H2402M482,2320.9H2402M482,2524.4H2402M482,2727.9H2402M482,2931.3H2402" stroke="#dcdcdc" stroke-width="9" fill="none" stroke-linecap="square"/>
<path d="M482,1710.6V2931.3M629.7,1710.6V2931.3M777.4,1710.6V2931.3M925.1,1710.6V2931.3M1072.8,1710.6V2931.3M1220.5,1710.6V2931.3M1368.2,1710.6V2931.3M1515.8,1710.6V2931.3M1663.5,1710.6V2931.3M1811.2,1710.6V2931.3M1958.9,1710.6V2931.3M2106.6,1710.6V2931.3M2254.3,1710.6V2931.3M2402,1710.6V2931.3M482,1710.6H2402M482,1914H2402M482,2117.5H2402M482,2320.9H2402M482,2524.4H2402M482,2727.9H2402M482,2931.3H2402" stroke="#878787" stroke-width="5.6" fill="none" stroke-linecap="square"/>
<text transform="translate(421,1733.6) scale(1,1.045)" font-size="79" text-anchor="end">120,000</text>
<text transform="translate(421,1937) scale(1,1.045)" font-size="79" text-anchor="end">100,000</text>
<text transform="translate(421,2140.5) scale(1,1.045)" font-size="79" text-anchor="end">80,000</text>
<text transform="translate(421,2343.9) scale(1,1.045)" font-size="79" text-anchor="end">60,000</text>
<text transform="translate(421,2547.4) scale(1,1.045)" font-size="79" text-anchor="end">40,000</text>
<text transform="translate(421,2750.9) scale(1,1.045)" font-size="79" text-anchor="end">20,000</text>
<text transform="translate(421,2954.3) scale(1,1.045)" font-size="79" text-anchor="end">0</text>
<text transform="translate(482,3047) scale(1,1.045)" font-size="79" text-anchor="middle">0</text>
<text transform="translate(629.7,3047) scale(1,1.045)" font-size="79" text-anchor="middle">9</text>
<text transform="translate(777.4,3047) scale(1,1.045)" font-size="79" text-anchor="middle">18</text>
<text transform="translate(925.1,3047) scale(1,1.045)" font-size="79" text-anchor="middle">27</text>
<text transform="translate(1072.8,3047) scale(1,1.045)" font-size="79" text-anchor="middle">36</text>
<text transform="translate(1220.5,3047) scale(1,1.045)" font-size="79" text-anchor="middle">45</text>
<text transform="translate(1368.2,3047) scale(1,1.045)" font-size="79" text-anchor="middle">54</text>
<text transform="translate(1515.8,3047) scale(1,1.045)" font-size="79" text-anchor="middle">63</text>
<text transform="translate(1663.5,3047) scale(1,1.045)" font-size="79" text-anchor="middle">72</text>
<text transform="translate(1811.2,3047) scale(1,1.045)" font-size="79" text-anchor="middle">81</text>
<text transform="translate(1958.9,3047) scale(1,1.045)" font-size="79" text-anchor="middle">90</text>
<text transform="translate(2106.6,3047) scale(1,1.045)" font-size="79" text-anchor="middle">99</text>
<text transform="translate(2254.3,3047) scale(1,1.045)" font-size="79" text-anchor="middle">108</text>
<text transform="translate(2402,3047) scale(1,1.045)" font-size="79" text-anchor="middle">117</text>
<text transform="translate(1446,3139.8) scale(1,1.05)" font-size="77.8" text-anchor="middle">Blade length (m)</text>
<text transform="translate(106,2323) rotate(-90)" text-anchor="middle">Blade F<tspan font-size="50" dy="14">y</tspan><tspan dy="-14"> (N)</tspan></text>
<text transform="translate(1241,3285.6) scale(1,1.02)" font-size="80" text-anchor="middle"><tspan font-weight="normal">(</tspan>b<tspan font-weight="normal">)</tspan></text>
<path d="M482,2317.8 C494.8,2306.2 533.3,2218 558.9,2248.3 C584.6,2278.6 610.2,2439.4 635.8,2499.6 C661.5,2559.8 687.1,2597.6 712.8,2609.4 C738.4,2621.2 764,2560.1 789.7,2570.5 C815.3,2580.9 841,2635.2 866.6,2672 C892.2,2708.8 917.9,2762.8 943.5,2791 C969.2,2819.2 994.8,2819.1 1020.4,2841.3 C1046.1,2863.5 1071.7,2919 1097.4,2924 C1123,2929 1148.6,2886.3 1174.3,2871.3 C1199.9,2856.3 1225.6,2847.6 1251.2,2834.1 C1276.8,2820.6 1302.5,2798 1328.1,2790.1 C1353.8,2782.2 1379.4,2790.6 1405,2786.7 C1430.7,2782.8 1456.3,2768.4 1482,2766.4 C1507.6,2764.4 1533.2,2770.1 1558.9,2774.5 C1584.5,2778.9 1610.2,2789.4 1635.8,2793 C1661.4,2796.6 1687.1,2795 1712.7,2796 C1738.4,2797 1764,2797.9 1789.6,2799 C1815.3,2800.1 1840.9,2799.8 1866.6,2802.7 C1892.2,2805.6 1917.8,2812.3 1943.5,2816.5 C1969.1,2820.7 1994.8,2822.1 2020.4,2828 C2046,2833.9 2071.7,2842.5 2097.3,2852 C2123,2861.5 2148.6,2875.2 2174.2,2885 C2199.9,2894.8 2225.5,2903.8 2251.2,2911 C2276.8,2918.2 2302.9,2924.6 2328.1,2928 C2353.2,2931.4 2389.7,2930.8 2402,2931.4" stroke="#3b2626" stroke-width="2.6" fill="none" stroke-linejoin="round"/>
<path d="M482,2298.9 L500.9,2317.8 L482,2336.7 L463.1,2317.8 Z" fill="#2c0f10" stroke="#1a0808" stroke-width="1.2"/>
<path d="M558.9,2229.4 L577.8,2248.3 L558.9,2267.2 L540,2248.3 Z" fill="#2c0f10" stroke="#1a0808" stroke-width="1.2"/>
<path d="M635.8,2480.7 L654.8,2499.6 L635.8,2518.5 L616.9,2499.6 Z" fill="#2c0f10" stroke="#1a0808" stroke-width="1.2"/>
<path d="M712.8,2590.5 L731.7,2609.4 L712.8,2628.3 L693.8,2609.4 Z" fill="#2c0f10" stroke="#1a0808" stroke-width="1.2"/>
<path d="M789.7,2551.6 L808.6,2570.5 L789.7,2589.4 L770.8,2570.5 Z" fill="#2c0f10" stroke="#1a0808" stroke-width="1.2"/>
<path d="M866.6,2653.1 L885.5,2672 L866.6,2690.9 L847.7,2672 Z" fill="#2c0f10" stroke="#1a0808" stroke-width="1.2"/>
<path d="M943.5,2772.1 L962.4,2791 L943.5,2809.9 L924.6,2791 Z" fill="#2c0f10" stroke="#1a0808" stroke-width="1.2"/>
<path d="M1020.4,2822.4 L1039.4,2841.3 L1020.4,2860.2 L1001.5,2841.3 Z" fill="#2c0f10" stroke="#1a0808" stroke-width="1.2"/>
<path d="M1097.4,2905.1 L1116.3,2924 L1097.4,2942.9 L1078.4,2924 Z" fill="#2c0f10" stroke="#1a0808" stroke-width="1.2"/>
<path d="M1174.3,2852.4 L1193.2,2871.3 L1174.3,2890.2 L1155.4,2871.3 Z" fill="#2c0f10" stroke="#1a0808" stroke-width="1.2"/>
<path d="M1251.2,2815.2 L1270.1,2834.1 L1251.2,2853 L1232.3,2834.1 Z" fill="#2c0f10" stroke="#1a0808" stroke-width="1.2"/>
<path d="M1328.1,2771.2 L1347,2790.1 L1328.1,2809 L1309.2,2790.1 Z" fill="#2c0f10" stroke="#1a0808" stroke-width="1.2"/>
<path d="M1405,2767.8 L1424,2786.7 L1405,2805.6 L1386.1,2786.7 Z" fill="#2c0f10" stroke="#1a0808" stroke-width="1.2"/>
<path d="M1482,2747.5 L1500.9,2766.4 L1482,2785.3 L1463,2766.4 Z" fill="#2c0f10" stroke="#1a0808" stroke-width="1.2"/>
<path d="M1558.9,2755.6 L1577.8,2774.5 L1558.9,2793.4 L1540,2774.5 Z" fill="#2c0f10" stroke="#1a0808" stroke-width="1.2"/>
<path d="M1635.8,2774.1 L1654.7,2793 L1635.8,2811.9 L1616.9,2793 Z" fill="#2c0f10" stroke="#1a0808" stroke-width="1.2"/>
<path d="M1712.7,2777.1 L1731.6,2796 L1712.7,2814.9 L1693.8,2796 Z" fill="#2c0f10" stroke="#1a0808" stroke-width="1.2"/>
<path d="M1789.6,2780.1 L1808.6,2799 L1789.6,2817.9 L1770.7,2799 Z" fill="#2c0f10" stroke="#1a0808" stroke-width="1.2"/>
<path d="M1866.6,2783.8 L1885.5,2802.7 L1866.6,2821.6 L1847.6,2802.7 Z" fill="#2c0f10" stroke="#1a0808" stroke-width="1.2"/>
<path d="M1943.5,2797.6 L1962.4,2816.5 L1943.5,2835.4 L1924.6,2816.5 Z" fill="#2c0f10" stroke="#1a0808" stroke-width="1.2"/>
<path d="M2020.4,2809.1 L2039.3,2828 L2020.4,2846.9 L2001.5,2828 Z" fill="#2c0f10" stroke="#1a0808" stroke-width="1.2"/>
<path d="M2097.3,2833.1 L2116.2,2852 L2097.3,2870.9 L2078.4,2852 Z" fill="#2c0f10" stroke="#1a0808" stroke-width="1.2"/>
<path d="M2174.2,2866.1 L2193.2,2885 L2174.2,2903.9 L2155.3,2885 Z" fill="#2c0f10" stroke="#1a0808" stroke-width="1.2"/>
<path d="M2251.2,2892.1 L2270.1,2911 L2251.2,2929.9 L2232.2,2911 Z" fill="#2c0f10" stroke="#1a0808" stroke-width="1.2"/>
<path d="M2328.1,2909.1 L2347,2928 L2328.1,2946.9 L2309.2,2928 Z" fill="#2c0f10" stroke="#1a0808" stroke-width="1.2"/>
<path d="M482,2198.8 C494.8,2184.2 533.3,2074 558.9,2111 C584.6,2148 610.2,2347.1 635.8,2420.7 C661.5,2494.3 687.1,2538.3 712.8,2552.4 C738.4,2566.5 764,2492.6 789.7,2505.2 C815.3,2517.8 841,2583.1 866.6,2628 C892.2,2672.9 917.9,2740.1 943.5,2774.6 C969.2,2809.1 994.8,2812.4 1020.4,2835 C1046.1,2857.6 1071.7,2906.8 1097.4,2910 C1123,2913.2 1148.6,2871.9 1174.3,2854.4 C1199.9,2836.9 1225.6,2821.3 1251.2,2805 C1276.8,2788.7 1302.5,2764.7 1328.1,2756.3 C1353.8,2747.9 1379.4,2759.1 1405,2754.6 C1430.7,2750.1 1456.3,2731.7 1482,2729.2 C1507.6,2726.7 1533.2,2733.3 1558.9,2739.8 C1584.5,2746.3 1610.2,2761.8 1635.8,2768 C1661.4,2774.2 1687.1,2774.9 1712.7,2777 C1738.4,2779.1 1764,2778.6 1789.6,2780.3 C1815.3,2782 1840.9,2783.8 1866.6,2787.2 C1892.2,2790.5 1917.8,2795.2 1943.5,2800.4 C1969.1,2805.7 1994.8,2810.9 2020.4,2818.7 C2046,2826.5 2071.7,2837.1 2097.3,2847 C2123,2856.9 2148.6,2868.9 2174.2,2878.4 C2199.9,2887.9 2225.5,2895.9 2251.2,2903.8 C2276.8,2911.7 2302.9,2921.2 2328.1,2925.8 C2353.2,2930.4 2389.7,2930.5 2402,2931.4" stroke="#b8874a" stroke-width="2.6" fill="none" stroke-linejoin="round"/>
<rect x="462.5" y="2179.3" width="39" height="39" fill="url(#gSq)" stroke="#6a3a06" stroke-width="1.2"/>
<rect x="539.4" y="2091.5" width="39" height="39" fill="url(#gSq)" stroke="#6a3a06" stroke-width="1.2"/>
<rect x="616.3" y="2401.2" width="39" height="39" fill="url(#gSq)" stroke="#6a3a06" stroke-width="1.2"/>
<rect x="693.3" y="2532.9" width="39" height="39" fill="url(#gSq)" stroke="#6a3a06" stroke-width="1.2"/>
<rect x="770.2" y="2485.7" width="39" height="39" fill="url(#gSq)" stroke="#6a3a06" stroke-width="1.2"/>
<rect x="847.1" y="2608.5" width="39" height="39" fill="url(#gSq)" stroke="#6a3a06" stroke-width="1.2"/>
<rect x="924" y="2755.1" width="39" height="39" fill="url(#gSq)" stroke="#6a3a06" stroke-width="1.2"/>
<rect x="1000.9" y="2815.5" width="39" height="39" fill="url(#gSq)" stroke="#6a3a06" stroke-width="1.2"/>
<rect x="1077.9" y="2890.5" width="39" height="39" fill="url(#gSq)" stroke="#6a3a06" stroke-width="1.2"/>
<rect x="1154.8" y="2834.9" width="39" height="39" fill="url(#gSq)" stroke="#6a3a06" stroke-width="1.2"/>
<rect x="1231.7" y="2785.5" width="39" height="39" fill="url(#gSq)" stroke="#6a3a06" stroke-width="1.2"/>
<rect x="1308.6" y="2736.8" width="39" height="39" fill="url(#gSq)" stroke="#6a3a06" stroke-width="1.2"/>
<rect x="1385.5" y="2735.1" width="39" height="39" fill="url(#gSq)" stroke="#6a3a06" stroke-width="1.2"/>
<rect x="1462.5" y="2709.7" width="39" height="39" fill="url(#gSq)" stroke="#6a3a06" stroke-width="1.2"/>
<rect x="1539.4" y="2720.3" width="39" height="39" fill="url(#gSq)" stroke="#6a3a06" stroke-width="1.2"/>
<rect x="1616.3" y="2748.5" width="39" height="39" fill="url(#gSq)" stroke="#6a3a06" stroke-width="1.2"/>
<rect x="1693.2" y="2757.5" width="39" height="39" fill="url(#gSq)" stroke="#6a3a06" stroke-width="1.2"/>
<rect x="1770.1" y="2760.8" width="39" height="39" fill="url(#gSq)" stroke="#6a3a06" stroke-width="1.2"/>
<rect x="1847.1" y="2767.7" width="39" height="39" fill="url(#gSq)" stroke="#6a3a06" stroke-width="1.2"/>
<rect x="1924" y="2780.9" width="39" height="39" fill="url(#gSq)" stroke="#6a3a06" stroke-width="1.2"/>
<rect x="2000.9" y="2799.2" width="39" height="39" fill="url(#gSq)" stroke="#6a3a06" stroke-width="1.2"/>
<rect x="2077.8" y="2827.5" width="39" height="39" fill="url(#gSq)" stroke="#6a3a06" stroke-width="1.2"/>
<rect x="2154.7" y="2858.9" width="39" height="39" fill="url(#gSq)" stroke="#6a3a06" stroke-width="1.2"/>
<rect x="2231.7" y="2884.3" width="39" height="39" fill="url(#gSq)" stroke="#6a3a06" stroke-width="1.2"/>
<rect x="2308.6" y="2906.3" width="39" height="39" fill="url(#gSq)" stroke="#6a3a06" stroke-width="1.2"/>
<path d="M482,2079.6 C494.8,2063.1 533.3,1935.9 558.9,1980.7 C584.6,2025.5 610.2,2259.9 635.8,2348.5 C661.5,2437.1 687.1,2495.2 712.8,2512 C738.4,2528.8 764,2435.9 789.7,2449.6 C815.3,2463.3 841,2541.1 866.6,2594 C892.2,2646.9 917.9,2726.6 943.5,2766.8 C969.2,2807 994.8,2813.7 1020.4,2835 C1046.1,2856.3 1071.7,2896.1 1097.4,2894.7 C1123,2893.2 1148.6,2845.5 1174.3,2826.3 C1199.9,2807.1 1225.6,2797.5 1251.2,2779.6 C1276.8,2761.7 1302.5,2729.4 1328.1,2718.7 C1353.8,2708 1379.4,2719.2 1405,2715.3 C1430.7,2711.4 1456.3,2695.4 1482,2695 C1507.6,2694.6 1533.2,2703.7 1558.9,2712.8 C1584.5,2721.9 1610.2,2741.7 1635.8,2749.5 C1661.4,2757.3 1687.1,2757.1 1712.7,2759.9 C1738.4,2762.7 1764,2763 1789.6,2766.2 C1815.3,2769.3 1840.9,2774.1 1866.6,2778.8 C1892.2,2783.5 1917.8,2788.8 1943.5,2794.5 C1969.1,2800.2 1994.8,2804.9 2020.4,2813.3 C2046,2821.7 2071.7,2834.2 2097.3,2844.7 C2123,2855.2 2148.6,2866.2 2174.2,2876.2 C2199.9,2886.1 2225.5,2895.8 2251.2,2904.4 C2276.8,2913 2302.9,2923.5 2328.1,2928 C2353.2,2932.5 2389.7,2930.8 2402,2931.4" stroke="#5aae3c" stroke-width="2.6" fill="none" stroke-linejoin="round"/>
<path d="M482,2061.1 L501.9,2098.1 L462.1,2098.1 Z" fill="url(#gTri)" stroke="#2f8a18" stroke-width="1.2"/>
<path d="M558.9,1962.2 L578.8,1999.2 L539,1999.2 Z" fill="url(#gTri)" stroke="#2f8a18" stroke-width="1.2"/>
<path d="M635.8,2330 L655.7,2367 L616,2367 Z" fill="url(#gTri)" stroke="#2f8a18" stroke-width="1.2"/>
<path d="M712.8,2493.5 L732.6,2530.5 L692.9,2530.5 Z" fill="url(#gTri)" stroke="#2f8a18" stroke-width="1.2"/>
<path d="M789.7,2431.1 L809.6,2468.1 L769.8,2468.1 Z" fill="url(#gTri)" stroke="#2f8a18" stroke-width="1.2"/>
<path d="M866.6,2575.5 L886.5,2612.5 L846.7,2612.5 Z" fill="url(#gTri)" stroke="#2f8a18" stroke-width="1.2"/>
<path d="M943.5,2748.3 L963.4,2785.3 L923.6,2785.3 Z" fill="url(#gTri)" stroke="#2f8a18" stroke-width="1.2"/>
<path d="M1020.4,2816.5 L1040.3,2853.5 L1000.6,2853.5 Z" fill="url(#gTri)" stroke="#2f8a18" stroke-width="1.2"/>
<path d="M1097.4,2876.2 L1117.3,2913.2 L1077.5,2913.2 Z" fill="url(#gTri)" stroke="#2f8a18" stroke-width="1.2"/>
<path d="M1174.3,2807.8 L1194.2,2844.8 L1154.4,2844.8 Z" fill="url(#gTri)" stroke="#2f8a18" stroke-width="1.2"/>
<path d="M1251.2,2761.1 L1271.1,2798.1 L1231.3,2798.1 Z" fill="url(#gTri)" stroke="#2f8a18" stroke-width="1.2"/>
<path d="M1328.1,2700.2 L1348,2737.2 L1308.2,2737.2 Z" fill="url(#gTri)" stroke="#2f8a18" stroke-width="1.2"/>
<path d="M1405,2696.8 L1424.9,2733.8 L1385.1,2733.8 Z" fill="url(#gTri)" stroke="#2f8a18" stroke-width="1.2"/>
<path d="M1482,2676.5 L1501.9,2713.5 L1462.1,2713.5 Z" fill="url(#gTri)" stroke="#2f8a18" stroke-width="1.2"/>
<path d="M1558.9,2694.3 L1578.8,2731.3 L1539,2731.3 Z" fill="url(#gTri)" stroke="#2f8a18" stroke-width="1.2"/>
<path d="M1635.8,2731 L1655.7,2768 L1615.9,2768 Z" fill="url(#gTri)" stroke="#2f8a18" stroke-width="1.2"/>
<path d="M1712.7,2741.4 L1732.6,2778.4 L1692.8,2778.4 Z" fill="url(#gTri)" stroke="#2f8a18" stroke-width="1.2"/>
<path d="M1789.6,2747.7 L1809.5,2784.7 L1769.8,2784.7 Z" fill="url(#gTri)" stroke="#2f8a18" stroke-width="1.2"/>
<path d="M1866.6,2760.3 L1886.5,2797.3 L1846.7,2797.3 Z" fill="url(#gTri)" stroke="#2f8a18" stroke-width="1.2"/>
<path d="M1943.5,2776 L1963.4,2813 L1923.6,2813 Z" fill="url(#gTri)" stroke="#2f8a18" stroke-width="1.2"/>
<path d="M2020.4,2794.8 L2040.3,2831.8 L2000.5,2831.8 Z" fill="url(#gTri)" stroke="#2f8a18" stroke-width="1.2"/>
<path d="M2097.3,2826.2 L2117.2,2863.2 L2077.4,2863.2 Z" fill="url(#gTri)" stroke="#2f8a18" stroke-width="1.2"/>
<path d="M2174.2,2857.7 L2194.1,2894.7 L2154.3,2894.7 Z" fill="url(#gTri)" stroke="#2f8a18" stroke-width="1.2"/>
<path d="M2251.2,2885.9 L2271,2922.9 L2231.3,2922.9 Z" fill="url(#gTri)" stroke="#2f8a18" stroke-width="1.2"/>
<path d="M2328.1,2909.5 L2348,2946.5 L2308.2,2946.5 Z" fill="url(#gTri)" stroke="#2f8a18" stroke-width="1.2"/>
<path d="M482,1984.3 C494.8,1964.8 533.3,1817 558.9,1867.5 C584.6,1918 610.2,2186.2 635.8,2287.3 C661.5,2388.5 687.1,2459.7 712.8,2474.4 C738.4,2489.1 764,2366.3 789.7,2375.3 C815.3,2384.3 841,2470.8 866.6,2528.6 C892.2,2586.3 917.9,2678.7 943.5,2721.8 C969.2,2764.9 994.8,2753.1 1020.4,2787.1 C1046.1,2821.1 1071.7,2914.8 1097.4,2926 C1123,2937.2 1148.6,2873.7 1174.3,2854.4 C1199.9,2835.1 1225.6,2829.2 1251.2,2810 C1276.8,2790.8 1302.5,2750.9 1328.1,2739.4 C1353.8,2727.9 1379.4,2745.2 1405,2741 C1430.7,2736.8 1456.3,2714.6 1482,2714 C1507.6,2713.4 1533.2,2727 1558.9,2737.6 C1584.5,2748.2 1610.2,2769 1635.8,2777.5 C1661.4,2786 1687.1,2786.1 1712.7,2788.5 C1738.4,2790.9 1764,2790.1 1789.6,2791.8 C1815.3,2793.5 1840.9,2794.9 1866.6,2798.7 C1892.2,2802.5 1917.8,2809.1 1943.5,2814.8 C1969.1,2820.6 1994.8,2826.1 2020.4,2833.2 C2046,2840.3 2071.7,2848.3 2097.3,2857.6 C2123,2866.9 2148.6,2880.9 2174.2,2889 C2199.9,2897.1 2225.5,2899.4 2251.2,2906 C2276.8,2912.6 2302.9,2924.1 2328.1,2928.3 C2353.2,2932.5 2389.7,2930.9 2402,2931.4" stroke="#111111" stroke-width="2.6" fill="none" stroke-linejoin="round"/>
<path d="M461.5,1963.8 L502.5,2004.8 M461.5,2004.8 L502.5,1963.8" stroke="#1e1e1e" stroke-width="2.6" fill="none"/>
<path d="M538.4,1847 L579.4,1888 M538.4,1888 L579.4,1847" stroke="#1e1e1e" stroke-width="2.6" fill="none"/>
<path d="M615.3,2266.8 L656.3,2307.8 M615.3,2307.8 L656.3,2266.8" stroke="#1e1e1e" stroke-width="2.6" fill="none"/>
<path d="M692.3,2453.9 L733.3,2494.9 M692.3,2494.9 L733.3,2453.9" stroke="#1e1e1e" stroke-width="2.6" fill="none"/>
<path d="M769.2,2354.8 L810.2,2395.8 M769.2,2395.8 L810.2,2354.8" stroke="#1e1e1e" stroke-width="2.6" fill="none"/>
<path d="M846.1,2508.1 L887.1,2549.1 M846.1,2549.1 L887.1,2508.1" stroke="#1e1e1e" stroke-width="2.6" fill="none"/>
<path d="M923,2701.3 L964,2742.3 M923,2742.3 L964,2701.3" stroke="#1e1e1e" stroke-width="2.6" fill="none"/>
<path d="M999.9,2766.6 L1040.9,2807.6 M999.9,2807.6 L1040.9,2766.6" stroke="#1e1e1e" stroke-width="2.6" fill="none"/>
<path d="M1076.9,2905.5 L1117.9,2946.5 M1076.9,2946.5 L1117.9,2905.5" stroke="#1e1e1e" stroke-width="2.6" fill="none"/>
<path d="M1153.8,2833.9 L1194.8,2874.9 M1153.8,2874.9 L1194.8,2833.9" stroke="#1e1e1e" stroke-width="2.6" fill="none"/>
<path d="M1230.7,2789.5 L1271.7,2830.5 M1230.7,2830.5 L1271.7,2789.5" stroke="#1e1e1e" stroke-width="2.6" fill="none"/>
<path d="M1307.6,2718.9 L1348.6,2759.9 M1307.6,2759.9 L1348.6,2718.9" stroke="#1e1e1e" stroke-width="2.6" fill="none"/>
<path d="M1384.5,2720.5 L1425.5,2761.5 M1384.5,2761.5 L1425.5,2720.5" stroke="#1e1e1e" stroke-width="2.6" fill="none"/>
<path d="M1461.5,2693.5 L1502.5,2734.5 M1461.5,2734.5 L1502.5,2693.5" stroke="#1e1e1e" stroke-width="2.6" fill="none"/>
<path d="M1538.4,2717.1 L1579.4,2758.1 M1538.4,2758.1 L1579.4,2717.1" stroke="#1e1e1e" stroke-width="2.6" fill="none"/>
<path d="M1615.3,2757 L1656.3,2798 M1615.3,2798 L1656.3,2757" stroke="#1e1e1e" stroke-width="2.6" fill="none"/>
<path d="M1692.2,2768 L1733.2,2809 M1692.2,2809 L1733.2,2768" stroke="#1e1e1e" stroke-width="2.6" fill="none"/>
<path d="M1769.1,2771.3 L1810.1,2812.3 M1769.1,2812.3 L1810.1,2771.3" stroke="#1e1e1e" stroke-width="2.6" fill="none"/>
<path d="M1846.1,2778.2 L1887.1,2819.2 M1846.1,2819.2 L1887.1,2778.2" stroke="#1e1e1e" stroke-width="2.6" fill="none"/>
<path d="M1923,2794.3 L1964,2835.3 M1923,2835.3 L1964,2794.3" stroke="#1e1e1e" stroke-width="2.6" fill="none"/>
<path d="M1999.9,2812.7 L2040.9,2853.7 M1999.9,2853.7 L2040.9,2812.7" stroke="#1e1e1e" stroke-width="2.6" fill="none"/>
<path d="M2076.8,2837.1 L2117.8,2878.1 M2076.8,2878.1 L2117.8,2837.1" stroke="#1e1e1e" stroke-width="2.6" fill="none"/>
<path d="M2153.7,2868.5 L2194.7,2909.5 M2153.7,2909.5 L2194.7,2868.5" stroke="#1e1e1e" stroke-width="2.6" fill="none"/>
<path d="M2230.7,2885.5 L2271.7,2926.5 M2230.7,2926.5 L2271.7,2885.5" stroke="#1e1e1e" stroke-width="2.6" fill="none"/>
<path d="M2307.6,2907.8 L2348.6,2948.8 M2307.6,2948.8 L2348.6,2907.8" stroke="#1e1e1e" stroke-width="2.6" fill="none"/>
<path d="M482,2007.9 C494.8,1987.5 533.3,1839 558.9,1885.6 C584.6,1932.2 610.2,2197.2 635.8,2287.3 C661.5,2377.5 687.1,2426.1 712.8,2426.5 C738.4,2426.9 764,2290.8 789.7,2290 C815.3,2289.2 841,2373.7 866.6,2421.8 C892.2,2469.9 917.9,2544.7 943.5,2578.7 C969.2,2612.7 994.8,2594.8 1020.4,2625.9 C1046.1,2657 1071.7,2731.8 1097.4,2765.4 C1123,2799 1148.6,2808.5 1174.3,2827.3 C1199.9,2846.1 1225.6,2860.9 1251.2,2878.1 C1276.8,2895.3 1302.5,2922.1 1328.1,2930.6 C1353.8,2939.1 1379.4,2934.5 1405,2928.9 C1430.7,2923.3 1456.3,2900.8 1482,2897 C1507.6,2893.2 1533.2,2900.3 1558.9,2906 C1584.5,2911.7 1610.2,2927.7 1635.8,2931.4 C1661.4,2935.1 1687.1,2929.5 1712.7,2928.3 C1738.4,2927.1 1764,2926.2 1789.6,2924 C1815.3,2921.8 1840.9,2918.5 1866.6,2915 C1892.2,2911.5 1917.8,2904.4 1943.5,2903 C1969.1,2901.6 1994.8,2904.3 2020.4,2906.3 C2046,2908.3 2071.7,2913.1 2097.3,2915 C2123,2916.9 2148.6,2915 2174.2,2918 C2199.9,2921 2225.5,2931.3 2251.2,2933 C2276.8,2934.7 2302.9,2928.6 2328.1,2928.3 C2353.2,2928 2389.7,2930.9 2402,2931.4" stroke="#7a6666" stroke-width="2.6" fill="none" stroke-linejoin="round"/>
<path d="M461.5,1987.4 L502.5,2028.4 M461.5,2028.4 L502.5,1987.4 M482,1987.4 L482,2028.4" stroke="#6e5a5c" stroke-width="2.6" fill="none"/>
<path d="M538.4,1865.1 L579.4,1906.1 M538.4,1906.1 L579.4,1865.1 M558.9,1865.1 L558.9,1906.1" stroke="#6e5a5c" stroke-width="2.6" fill="none"/>
<path d="M615.3,2266.8 L656.3,2307.8 M615.3,2307.8 L656.3,2266.8 M635.8,2266.8 L635.8,2307.8" stroke="#6e5a5c" stroke-width="2.6" fill="none"/>
<path d="M692.3,2406 L733.3,2447 M692.3,2447 L733.3,2406 M712.8,2406 L712.8,2447" stroke="#6e5a5c" stroke-width="2.6" fill="none"/>
<path d="M769.2,2269.5 L810.2,2310.5 M769.2,2310.5 L810.2,2269.5 M789.7,2269.5 L789.7,2310.5" stroke="#6e5a5c" stroke-width="2.6" fill="none"/>
<path d="M846.1,2401.3 L887.1,2442.3 M846.1,2442.3 L887.1,2401.3 M866.6,2401.3 L866.6,2442.3" stroke="#6e5a5c" stroke-width="2.6" fill="none"/>
<path d="M923,2558.2 L964,2599.2 M923,2599.2 L964,2558.2 M943.5,2558.2 L943.5,2599.2" stroke="#6e5a5c" stroke-width="2.6" fill="none"/>
<path d="M999.9,2605.4 L1040.9,2646.4 M999.9,2646.4 L1040.9,2605.4 M1020.4,2605.4 L1020.4,2646.4" stroke="#6e5a5c" stroke-width="2.6" fill="none"/>
<path d="M1076.9,2744.9 L1117.9,2785.9 M1076.9,2785.9 L1117.9,2744.9 M1097.4,2744.9 L1097.4,2785.9" stroke="#6e5a5c" stroke-width="2.6" fill="none"/>
<path d="M1153.8,2806.8 L1194.8,2847.8 M1153.8,2847.8 L1194.8,2806.8 M1174.3,2806.8 L1174.3,2847.8" stroke="#6e5a5c" stroke-width="2.6" fill="none"/>
<path d="M1230.7,2857.6 L1271.7,2898.6 M1230.7,2898.6 L1271.7,2857.6 M1251.2,2857.6 L1251.2,2898.6" stroke="#6e5a5c" stroke-width="2.6" fill="none"/>
<path d="M1307.6,2910.1 L1348.6,2951.1 M1307.6,2951.1 L1348.6,2910.1 M1328.1,2910.1 L1328.1,2951.1" stroke="#6e5a5c" stroke-width="2.6" fill="none"/>
<path d="M1384.5,2908.4 L1425.5,2949.4 M1384.5,2949.4 L1425.5,2908.4 M1405,2908.4 L1405,2949.4" stroke="#6e5a5c" stroke-width="2.6" fill="none"/>
<path d="M1461.5,2876.5 L1502.5,2917.5 M1461.5,2917.5 L1502.5,2876.5 M1482,2876.5 L1482,2917.5" stroke="#6e5a5c" stroke-width="2.6" fill="none"/>
<path d="M1538.4,2885.5 L1579.4,2926.5 M1538.4,2926.5 L1579.4,2885.5 M1558.9,2885.5 L1558.9,2926.5" stroke="#6e5a5c" stroke-width="2.6" fill="none"/>
<path d="M1615.3,2910.9 L1656.3,2951.9 M1615.3,2951.9 L1656.3,2910.9 M1635.8,2910.9 L1635.8,2951.9" stroke="#6e5a5c" stroke-width="2.6" fill="none"/>
<path d="M1692.2,2907.8 L1733.2,2948.8 M1692.2,2948.8 L1733.2,2907.8 M1712.7,2907.8 L1712.7,2948.8" stroke="#6e5a5c" stroke-width="2.6" fill="none"/>
<path d="M1769.1,2903.5 L1810.1,2944.5 M1769.1,2944.5 L1810.1,2903.5 M1789.6,2903.5 L1789.6,2944.5" stroke="#6e5a5c" stroke-width="2.6" fill="none"/>
<path d="M1846.1,2894.5 L1887.1,2935.5 M1846.1,2935.5 L1887.1,2894.5 M1866.6,2894.5 L1866.6,2935.5" stroke="#6e5a5c" stroke-width="2.6" fill="none"/>
<path d="M1923,2882.5 L1964,2923.5 M1923,2923.5 L1964,2882.5 M1943.5,2882.5 L1943.5,2923.5" stroke="#6e5a5c" stroke-width="2.6" fill="none"/>
<path d="M1999.9,2885.8 L2040.9,2926.8 M1999.9,2926.8 L2040.9,2885.8 M2020.4,2885.8 L2020.4,2926.8" stroke="#6e5a5c" stroke-width="2.6" fill="none"/>
<path d="M2076.8,2894.5 L2117.8,2935.5 M2076.8,2935.5 L2117.8,2894.5 M2097.3,2894.5 L2097.3,2935.5" stroke="#6e5a5c" stroke-width="2.6" fill="none"/>
<path d="M2153.7,2897.5 L2194.7,2938.5 M2153.7,2938.5 L2194.7,2897.5 M2174.2,2897.5 L2174.2,2938.5" stroke="#6e5a5c" stroke-width="2.6" fill="none"/>
<path d="M2230.7,2912.5 L2271.7,2953.5 M2230.7,2953.5 L2271.7,2912.5 M2251.2,2912.5 L2251.2,2953.5" stroke="#6e5a5c" stroke-width="2.6" fill="none"/>
<path d="M2307.6,2907.8 L2348.6,2948.8 M2307.6,2948.8 L2348.6,2907.8 M2328.1,2907.8 L2328.1,2948.8" stroke="#6e5a5c" stroke-width="2.6" fill="none"/>
<path d="M482,2057.4 C494.8,2036.6 533.3,1887 558.9,1932.3 C584.6,1977.6 610.2,2243.9 635.8,2329.4 C661.5,2414.9 687.1,2452 712.8,2445.4 C738.4,2438.8 764,2300 789.7,2290.1 C815.3,2280.2 841,2345.5 866.6,2386.2 C892.2,2426.9 917.9,2503.8 943.5,2534.2 C969.2,2564.6 994.8,2540.9 1020.4,2568.4 C1046.1,2595.9 1071.7,2669.2 1097.4,2699.4 C1123,2729.6 1148.6,2732.4 1174.3,2749.5 C1199.9,2766.6 1225.6,2784.8 1251.2,2802 C1276.8,2819.2 1302.5,2843.7 1328.1,2852.7 C1353.8,2861.7 1379.4,2849.9 1405,2856.1 C1430.7,2862.3 1456.3,2885.3 1482,2890 C1507.6,2894.7 1533.2,2888.9 1558.9,2884.3 C1584.5,2879.7 1610.2,2863.4 1635.8,2862.3 C1661.4,2861.2 1687.1,2871.7 1712.7,2878 C1738.4,2884.3 1764,2893.7 1789.6,2900 C1815.3,2906.3 1840.9,2912 1866.6,2915.7 C1892.2,2919.4 1917.8,2919.9 1943.5,2922 C1969.1,2924.1 1994.8,2927.2 2020.4,2928.3 C2046,2929.4 2071.7,2929.1 2097.3,2928.3 C2123,2927.5 2148.6,2923.9 2174.2,2923.6 C2199.9,2923.3 2225.5,2925.9 2251.2,2926.7 C2276.8,2927.5 2302.9,2927.5 2328.1,2928.3 C2353.2,2929.1 2389.7,2930.9 2402,2931.4" stroke="#6b4a26" stroke-width="2.6" fill="none" stroke-linejoin="round"/>
<circle cx="482" cy="2057.4" r="19.5" fill="url(#gCi)" stroke="#5a3204" stroke-width="1.2"/>
<circle cx="558.9" cy="1932.3" r="19.5" fill="url(#gCi)" stroke="#5a3204" stroke-width="1.2"/>
<circle cx="635.8" cy="2329.4" r="19.5" fill="url(#gCi)" stroke="#5a3204" stroke-width="1.2"/>
<circle cx="712.8" cy="2445.4" r="19.5" fill="url(#gCi)" stroke="#5a3204" stroke-width="1.2"/>
<circle cx="789.7" cy="2290.1" r="19.5" fill="url(#gCi)" stroke="#5a3204" stroke-width="1.2"/>
<circle cx="866.6" cy="2386.2" r="19.5" fill="url(#gCi)" stroke="#5a3204" stroke-width="1.2"/>
<circle cx="943.5" cy="2534.2" r="19.5" fill="url(#gCi)" stroke="#5a3204" stroke-width="1.2"/>
<circle cx="1020.4" cy="2568.4" r="19.5" fill="url(#gCi)" stroke="#5a3204" stroke-width="1.2"/>
<circle cx="1097.4" cy="2699.4" r="19.5" fill="url(#gCi)" stroke="#5a3204" stroke-width="1.2"/>
<circle cx="1174.3" cy="2749.5" r="19.5" fill="url(#gCi)" stroke="#5a3204" stroke-width="1.2"/>
<circle cx="1251.2" cy="2802" r="19.5" fill="url(#gCi)" stroke="#5a3204" stroke-width="1.2"/>
<circle cx="1328.1" cy="2852.7" r="19.5" fill="url(#gCi)" stroke="#5a3204" stroke-width="1.2"/>
<circle cx="1405" cy="2856.1" r="19.5" fill="url(#gCi)" stroke="#5a3204" stroke-width="1.2"/>
<circle cx="1482" cy="2890" r="19.5" fill="url(#gCi)" stroke="#5a3204" stroke-width="1.2"/>
<circle cx="1558.9" cy="2884.3" r="19.5" fill="url(#gCi)" stroke="#5a3204" stroke-width="1.2"/>
<circle cx="1635.8" cy="2862.3" r="19.5" fill="url(#gCi)" stroke="#5a3204" stroke-width="1.2"/>
<circle cx="1712.7" cy="2878" r="19.5" fill="url(#gCi)" stroke="#5a3204" stroke-width="1.2"/>
<circle cx="1789.6" cy="2900" r="19.5" fill="url(#gCi)" stroke="#5a3204" stroke-width="1.2"/>
<circle cx="1866.6" cy="2915.7" r="19.5" fill="url(#gCi)" stroke="#5a3204" stroke-width="1.2"/>
<circle cx="1943.5" cy="2922" r="19.5" fill="url(#gCi)" stroke="#5a3204" stroke-width="1.2"/>
<circle cx="2020.4" cy="2928.3" r="19.5" fill="url(#gCi)" stroke="#5a3204" stroke-width="1.2"/>
<circle cx="2097.3" cy="2928.3" r="19.5" fill="url(#gCi)" stroke="#5a3204" stroke-width="1.2"/>
<circle cx="2174.2" cy="2923.6" r="19.5" fill="url(#gCi)" stroke="#5a3204" stroke-width="1.2"/>
<circle cx="2251.2" cy="2926.7" r="19.5" fill="url(#gCi)" stroke="#5a3204" stroke-width="1.2"/>
<circle cx="2328.1" cy="2928.3" r="19.5" fill="url(#gCi)" stroke="#5a3204" stroke-width="1.2"/>
<path d="M482,2110.7 C494.8,2089.8 533.3,1940.1 558.9,1985.1 C584.6,2030.1 610.2,2298.3 635.8,2380.8 C661.5,2463.3 687.1,2492.6 712.8,2480 C738.4,2467.4 764,2320.7 789.7,2305.2 C815.3,2289.7 841,2350.7 866.6,2386.8 C892.2,2422.9 917.9,2496.2 943.5,2521.7 C969.2,2547.2 994.8,2516.6 1020.4,2539.8 C1046.1,2563.1 1071.7,2633 1097.4,2661.2 C1123,2689.4 1148.6,2693.6 1174.3,2708.9 C1199.9,2724.2 1225.6,2736.8 1251.2,2752.9 C1276.8,2769 1302.5,2796 1328.1,2805.3 C1353.8,2814.6 1379.4,2801.9 1405,2808.7 C1430.7,2815.5 1456.3,2840.7 1482,2846 C1507.6,2851.3 1533.2,2844.2 1558.9,2840.3 C1584.5,2836.4 1610.2,2821.9 1635.8,2822.4 C1661.4,2822.9 1687.1,2835.4 1712.7,2843.5 C1738.4,2851.6 1764,2863 1789.6,2870.8 C1815.3,2878.7 1840.9,2885.2 1866.6,2890.6 C1892.2,2896 1917.8,2899.3 1943.5,2903.2 C1969.1,2907.1 1994.8,2911.8 2020.4,2914.2 C2046,2916.5 2071.7,2916.3 2097.3,2917.3 C2123,2918.3 2148.6,2918.8 2174.2,2920.4 C2199.9,2922 2225.5,2925.4 2251.2,2926.7 C2276.8,2928 2302.9,2927.5 2328.1,2928.3 C2353.2,2929.1 2389.7,2930.9 2402,2931.4" stroke="#151515" stroke-width="2.6" fill="none" stroke-linejoin="round"/>
<path d="M461,2110.7 L503,2110.7 M482,2089.7 L482,2131.7" stroke="#101010" stroke-width="3.6" fill="none"/>
<path d="M537.9,1985.1 L579.9,1985.1 M558.9,1964.1 L558.9,2006.1" stroke="#101010" stroke-width="3.6" fill="none"/>
<path d="M614.8,2380.8 L656.8,2380.8 M635.8,2359.8 L635.8,2401.8" stroke="#101010" stroke-width="3.6" fill="none"/>
<path d="M691.8,2480 L733.8,2480 M712.8,2459 L712.8,2501" stroke="#101010" stroke-width="3.6" fill="none"/>
<path d="M768.7,2305.2 L810.7,2305.2 M789.7,2284.2 L789.7,2326.2" stroke="#101010" stroke-width="3.6" fill="none"/>
<path d="M845.6,2386.8 L887.6,2386.8 M866.6,2365.8 L866.6,2407.8" stroke="#101010" stroke-width="3.6" fill="none"/>
<path d="M922.5,2521.7 L964.5,2521.7 M943.5,2500.7 L943.5,2542.7" stroke="#101010" stroke-width="3.6" fill="none"/>
<path d="M999.4,2539.8 L1041.4,2539.8 M1020.4,2518.8 L1020.4,2560.8" stroke="#101010" stroke-width="3.6" fill="none"/>
<path d="M1076.4,2661.2 L1118.4,2661.2 M1097.4,2640.2 L1097.4,2682.2" stroke="#101010" stroke-width="3.6" fill="none"/>
<path d="M1153.3,2708.9 L1195.3,2708.9 M1174.3,2687.9 L1174.3,2729.9" stroke="#101010" stroke-width="3.6" fill="none"/>
<path d="M1230.2,2752.9 L1272.2,2752.9 M1251.2,2731.9 L1251.2,2773.9" stroke="#101010" stroke-width="3.6" fill="none"/>
<path d="M1307.1,2805.3 L1349.1,2805.3 M1328.1,2784.3 L1328.1,2826.3" stroke="#101010" stroke-width="3.6" fill="none"/>
<path d="M1384,2808.7 L1426,2808.7 M1405,2787.7 L1405,2829.7" stroke="#101010" stroke-width="3.6" fill="none"/>
<path d="M1461,2846 L1503,2846 M1482,2825 L1482,2867" stroke="#101010" stroke-width="3.6" fill="none"/>
<path d="M1537.9,2840.3 L1579.9,2840.3 M1558.9,2819.3 L1558.9,2861.3" stroke="#101010" stroke-width="3.6" fill="none"/>
<path d="M1614.8,2822.4 L1656.8,2822.4 M1635.8,2801.4 L1635.8,2843.4" stroke="#101010" stroke-width="3.6" fill="none"/>
<path d="M1691.7,2843.5 L1733.7,2843.5 M1712.7,2822.5 L1712.7,2864.5" stroke="#101010" stroke-width="3.6" fill="none"/>
<path d="M1768.6,2870.8 L1810.6,2870.8 M1789.6,2849.8 L1789.6,2891.8" stroke="#101010" stroke-width="3.6" fill="none"/>
<path d="M1845.6,2890.6 L1887.6,2890.6 M1866.6,2869.6 L1866.6,2911.6" stroke="#101010" stroke-width="3.6" fill="none"/>
<path d="M1922.5,2903.2 L1964.5,2903.2 M1943.5,2882.2 L1943.5,2924.2" stroke="#101010" stroke-width="3.6" fill="none"/>
<path d="M1999.4,2914.2 L2041.4,2914.2 M2020.4,2893.2 L2020.4,2935.2" stroke="#101010" stroke-width="3.6" fill="none"/>
<path d="M2076.3,2917.3 L2118.3,2917.3 M2097.3,2896.3 L2097.3,2938.3" stroke="#101010" stroke-width="3.6" fill="none"/>
<path d="M2153.2,2920.4 L2195.2,2920.4 M2174.2,2899.4 L2174.2,2941.4" stroke="#101010" stroke-width="3.6" fill="none"/>
<path d="M2230.2,2926.7 L2272.2,2926.7 M2251.2,2905.7 L2251.2,2947.7" stroke="#101010" stroke-width="3.6" fill="none"/>
<path d="M2307.1,2928.3 L2349.1,2928.3 M2328.1,2907.3 L2328.1,2949.3" stroke="#101010" stroke-width="3.6" fill="none"/>
<rect x="1455" y="1817" width="822" height="371" fill="#b3b3b3" stroke="#000" stroke-width="4"/>
<path d="M1494,1863.5H1621" stroke="#262020" stroke-width="3.2"/>
<path d="M1557,1843.5 L1574.5,1863.5 L1557,1883.5 L1539.5,1863.5 Z" fill="#2c0f10" stroke="#1a0808" stroke-width="1.2"/>
<text transform="translate(1637,1886) scale(1,1.035)" font-size="79">8 m/s</text>
<path d="M1905,1863.5H2030" stroke="#262020" stroke-width="3.2"/>
<rect x="1949.5" y="1845" width="37" height="37" fill="#6b3a04" stroke="#5a3004" stroke-width="1.2"/>
<text transform="translate(2046,1886) scale(1,1.035)" font-size="79">9 m/s</text>
<path d="M1494,1953.9H1621" stroke="#1f5014" stroke-width="3.2"/>
<path d="M1557,1934.4 L1577.9,1973.4 L1536.1,1973.4 Z" fill="#2f7d17" stroke="#2a6e14" stroke-width="1.2"/>
<text transform="translate(1637,1976.4) scale(1,1.035)" font-size="79">10 m/s</text>
<path d="M1905,1953.9H2030" stroke="#262020" stroke-width="3.2"/>
<path d="M1946,1931.9 L1990,1975.9 M1946,1975.9 L1990,1931.9" stroke="#3a3a3a" stroke-width="2.6" fill="none"/>
<text transform="translate(2046,1976.4) scale(1,1.035)" font-size="79">11 m/s</text>
<path d="M1494,2048.5H1621" stroke="#262020" stroke-width="3.2"/>
<path d="M1535,2026.5 L1579,2070.5 M1535,2070.5 L1579,2026.5 M1557,2026.5 L1557,2070.5" stroke="#403636" stroke-width="2.6" fill="none"/>
<text transform="translate(1637,2071) scale(1,1.035)" font-size="79">12 m/s</text>
<path d="M1905,2048.5H2030" stroke="#262020" stroke-width="3.2"/>
<circle cx="1968" cy="2048.5" r="18.5" fill="#583000" stroke="#4a2800" stroke-width="1.2"/>
<text transform="translate(2046,2071) scale(1,1.035)" font-size="79">13 m/s</text>
<path d="M1494,2143.2H1621" stroke="#262020" stroke-width="3.2"/>
<path d="M1536.7,2143.2 L1577.3,2143.2 M1557,2122.9 L1557,2163.5" stroke="#101010" stroke-width="3.6" fill="none"/>
<text transform="translate(1637,2165.7) scale(1,1.035)" font-size="79">14 m/s</text>
</g></svg>
</body></html>
